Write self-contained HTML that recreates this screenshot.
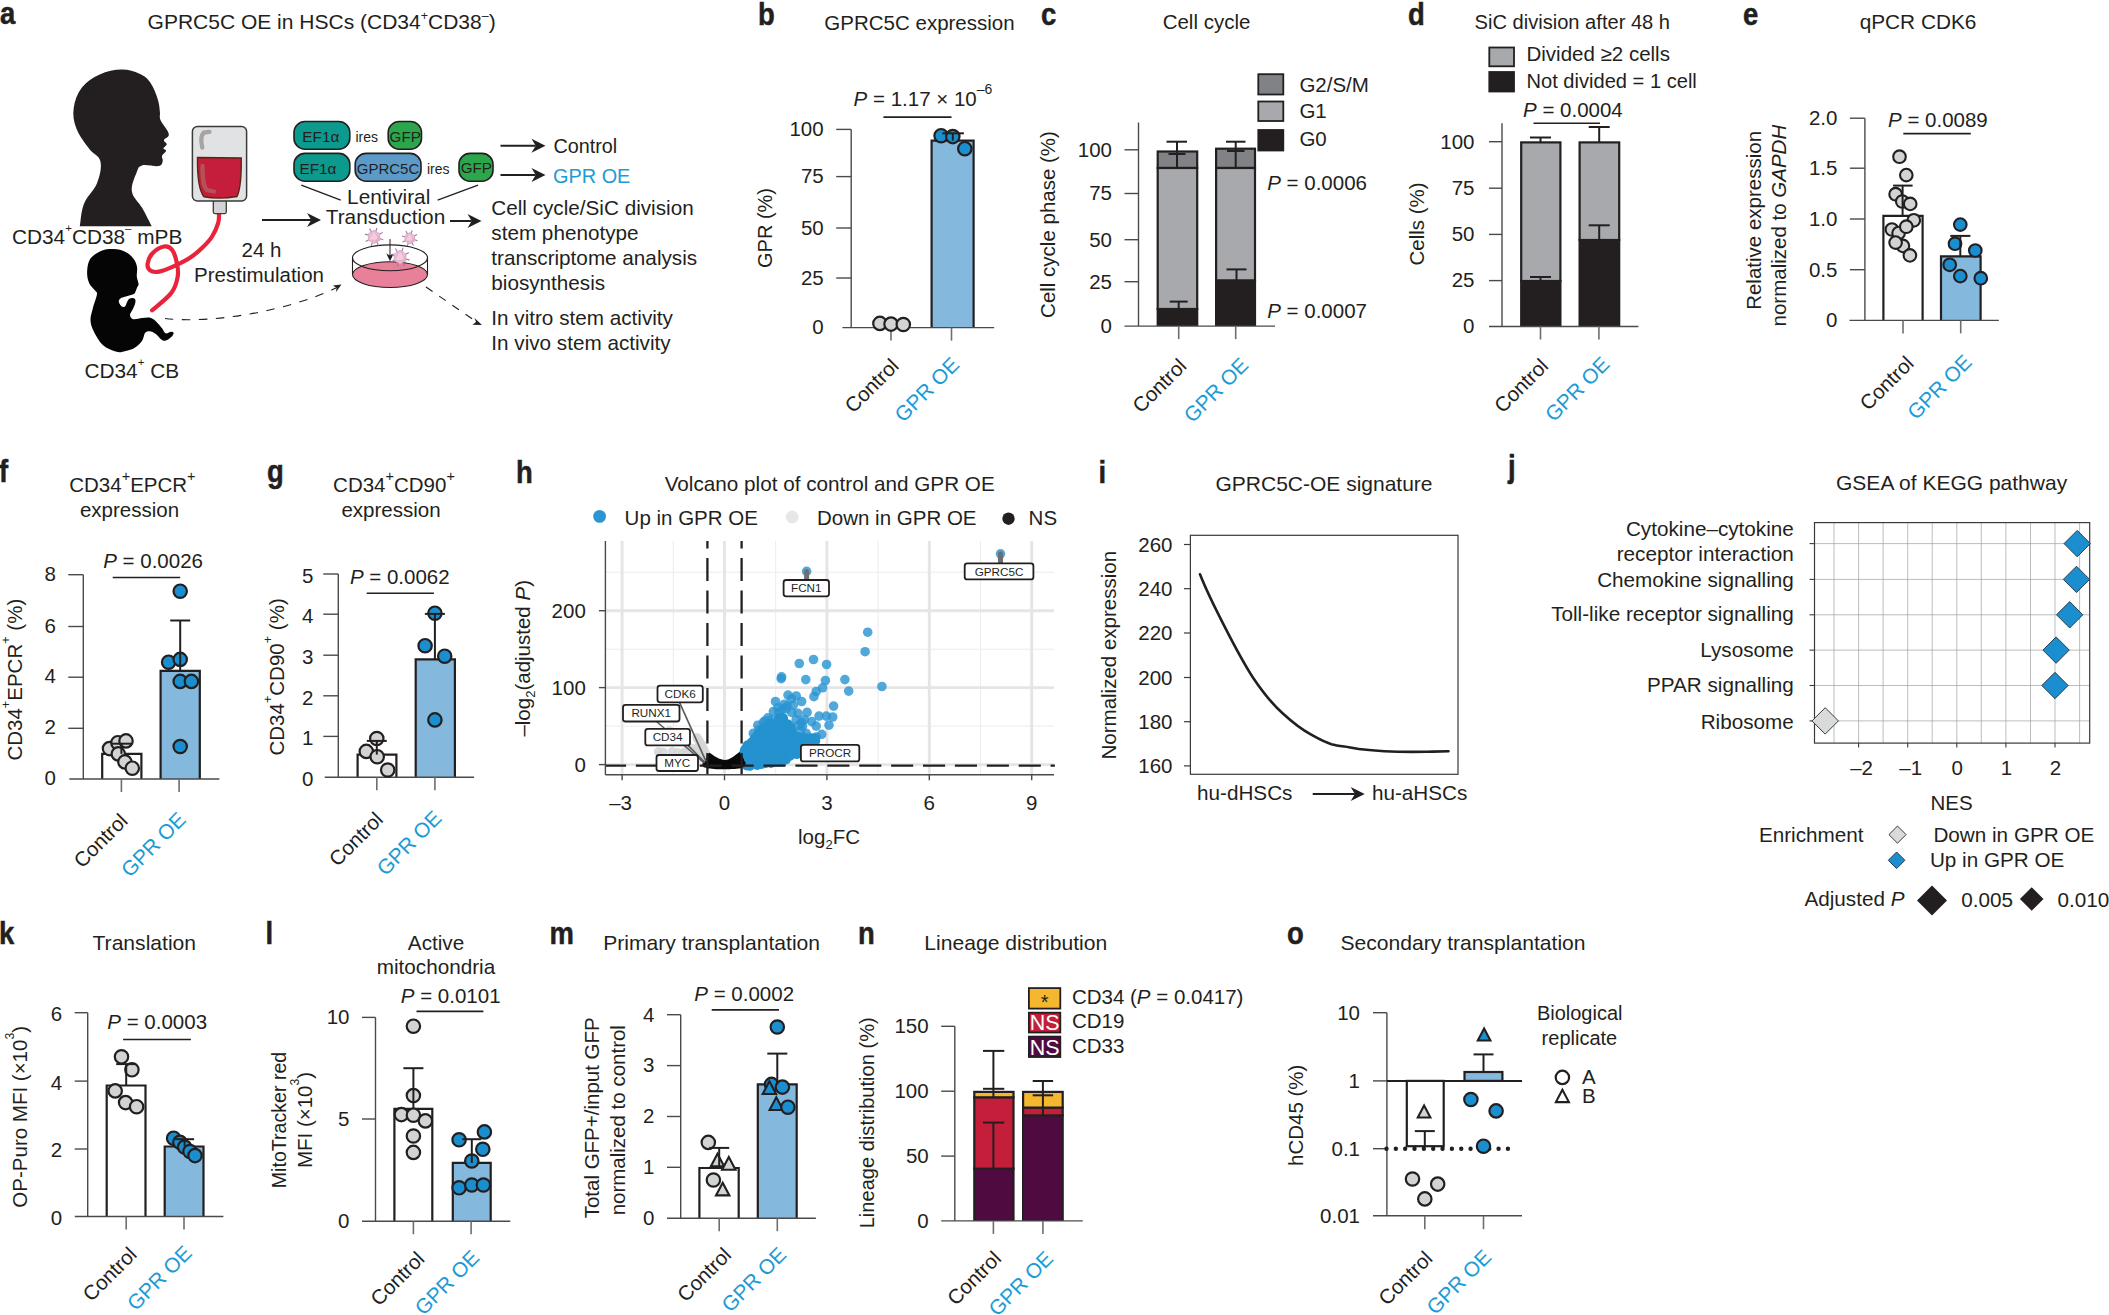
<!DOCTYPE html>
<html><head><meta charset="utf-8"><title>GPRC5C OE in HSCs</title>
<style>
html,body{margin:0;padding:0;background:#fff;}
svg{display:block;font-family:"Liberation Sans",sans-serif;}
</style></head><body>
<svg width="2109" height="1315" viewBox="0 0 2109 1315">
<rect x="0" y="0" width="2109" height="1315" fill="#ffffff"/>
<text transform="translate(0.0 24.0) scale(0.9 1)" font-size="30.5" font-weight="bold" fill="#231f20" stroke="#231f20" stroke-width="0.5">a</text>
<text x="147.6" y="28.6" font-size="21.0" fill="#231f20">GPRC5C OE in HSCs (CD34<tspan font-size="12.5" dy="-8.8">+</tspan><tspan dy="8.8" font-size="1">&#8203;</tspan>CD38<tspan font-size="12.5" dy="-8.8">–</tspan><tspan dy="8.8" font-size="1">&#8203;</tspan>)</text>
<path d="M79.8,226.3 C80.6,222.2 80.9,211.5 84.0,203.7 C87.1,195.9 94.0,190.8 97.0,183.2 C100.0,175.6 101.8,167.5 100.4,161.3 C99.0,155.1 93.7,154.9 89.4,149.0 C85.1,143.1 79.2,135.8 76.4,128.4 C73.6,121.0 72.7,115.3 73.7,107.9 C74.7,100.5 77.2,93.4 81.9,87.4 C86.6,81.4 92.6,77.6 99.7,74.4 C106.8,71.2 114.5,69.7 121.6,69.6 C128.7,69.5 134.2,71.4 139.4,73.7 C144.6,76.0 147.0,77.9 150.3,82.6 C153.6,87.3 156.2,94.4 157.9,99.7 C159.6,105.0 159.4,108.3 159.9,112.0 C160.4,115.7 159.0,116.3 160.6,120.2 C162.2,124.1 168.2,130.3 168.8,133.9 C169.4,137.5 164.4,138.1 164.0,140.0 C163.6,141.9 166.9,142.7 166.8,144.2 C166.7,145.7 163.5,147.1 163.4,148.3 C163.3,149.5 166.4,149.7 166.1,151.0 C165.8,152.3 162.6,153.9 162.0,155.8 C161.4,157.7 163.3,159.4 162.7,161.3 C162.1,163.2 162.3,165.4 158.6,166.1 C154.9,166.8 146.0,164.3 142.1,165.4 C138.2,166.5 138.5,167.6 136.7,172.3 C134.9,177.0 130.9,185.0 131.9,191.4 C132.9,197.8 138.5,201.5 142.1,207.8 C145.7,214.1 150.0,223.0 151.7,226.3 Z" fill="#231f20"/>
<text x="12.0" y="243.8" font-size="20.8" fill="#231f20">CD34<tspan font-size="11.5" dy="-11.5">+</tspan><tspan dy="11.5" font-size="1">&#8203;</tspan>CD38<tspan font-size="11.5" dy="-11.5">–</tspan><tspan dy="11.5" font-size="1">&#8203;</tspan> mPB</text>
<path d="M219.0,213.5 C218.8,215.3 219.5,218.4 218.2,222.8 C216.9,227.2 215.0,231.9 212.1,236.5 C209.2,241.1 207.2,243.0 203.0,247.0 C198.8,251.0 196.0,253.9 190.0,257.8 C184.0,261.7 177.5,264.7 171.3,267.4 C165.1,270.1 161.7,271.4 157.6,271.9 C153.5,272.4 151.7,271.7 149.8,270.1 C147.9,268.5 147.2,266.8 147.6,263.7 C148.0,260.6 149.0,257.0 152.1,253.7 C155.2,250.4 160.2,247.2 164.0,246.5 C167.8,245.8 169.8,246.9 172.2,250.0 C174.6,253.1 175.8,257.8 176.8,262.8 C177.8,267.8 178.7,270.8 177.7,276.5 C176.7,282.2 176.2,286.5 171.3,292.9 C166.4,299.3 155.7,307.0 152.1,310.3" fill="none" stroke="#e8243c" stroke-width="4.2" stroke-linecap="round"/>
<rect x="213.3" y="200.0" width="13.0" height="13.6" fill="#d1d3d4" stroke="#3a3a3a" stroke-width="1.3" rx="1.5" />
<rect x="192.4" y="126.6" width="54.2" height="74.4" fill="#e1e2e4" stroke="#3a3a3a" stroke-width="1.5" rx="5" />
<path d="M197.5,157.5 L241.2,158 C241.5,175 240,190 237,196.5 Q219,199.5 204,196.8 C198.5,190 197.3,172 197.5,157.5Z" fill="#c41e3a" stroke="#5b2416" stroke-width="1.4"/>
<path d="M202.3,147.5 C200.8,141 201.3,135 203.8,132.6 L209.5,131.8" fill="none" stroke="#a8a2a2" stroke-width="4.3" stroke-linecap="round"/>
<path d="M202.5,166 C202.5,178 203,186 207,190 L214,191.5" fill="none" stroke="#b4525a" stroke-width="4.3" stroke-linecap="round"/>
<path d="M137.1,267.4 C137.5,270.3 136.5,273.6 136.8,276.5 C137.0,279.4 138.6,282.4 138.6,284.3 C138.6,286.1 137.5,286.4 137.1,287.5 C136.6,288.6 136.4,289.5 135.9,290.7 C135.3,291.8 135.3,293.2 133.9,294.0 C132.4,294.9 129.6,295.2 127.5,295.9 C125.3,296.5 122.6,297.0 121.1,298.0 C119.6,298.9 118.9,300.1 118.8,301.3 C118.7,302.6 119.9,304.3 120.6,305.3 C121.4,306.2 122.3,307.0 123.1,307.1 C123.9,307.2 124.6,306.9 125.4,305.9 C126.1,304.9 126.7,302.4 127.5,301.2 C128.2,299.9 128.8,299.1 129.7,298.6 C130.7,298.1 132.0,297.9 132.9,298.1 C133.9,298.3 135.0,298.8 135.3,299.8 C135.7,300.8 135.5,302.2 135.0,303.9 C134.6,305.6 133.3,307.9 132.5,309.8 C131.6,311.7 129.9,313.4 130.0,315.0 C130.1,316.6 131.1,318.7 133.1,319.2 C135.2,319.8 139.3,318.4 142.1,318.1 C144.8,317.9 147.0,317.1 149.4,317.6 C151.7,318.1 153.6,319.4 155.8,321.2 C157.9,323.1 160.5,326.5 162.2,328.5 C163.8,330.6 164.1,332.7 165.6,333.3 C167.2,333.8 169.9,331.8 171.3,331.7 C172.6,331.7 173.6,332.3 173.7,333.1 C173.7,334.0 172.9,335.5 171.6,336.8 C170.2,338.0 167.6,340.1 165.8,340.6 C164.1,341.1 162.9,340.6 161.2,339.5 C159.5,338.4 157.8,335.4 155.8,334.0 C153.8,332.6 151.4,331.4 149.6,331.3 C147.7,331.1 146.2,331.6 145.0,333.1 C143.8,334.7 144.0,337.9 142.3,340.4 C140.5,342.9 137.6,345.9 134.8,347.7 C131.9,349.5 128.7,350.2 125.6,350.9 C122.5,351.6 120.4,352.8 116.5,351.8 C112.6,350.8 106.7,348.5 102.8,345.0 C98.9,341.5 95.8,335.5 93.7,331.3 C91.6,327.1 90.7,324.2 90.5,320.3 C90.3,316.4 91.7,312.8 92.8,308.5 C93.9,304.1 96.4,297.7 96.9,294.8 C97.4,291.8 96.8,293.1 95.5,291.1 C94.2,289.1 90.6,286.2 89.1,282.9 C87.7,279.6 87.0,276.0 87.1,271.9 C87.3,267.9 87.7,262.7 90.0,259.2 C92.4,255.6 97.0,252.7 101.0,251.0 C105.0,249.2 109.6,249.0 113.8,249.1 C118.0,249.3 122.2,250.2 125.6,251.9 C129.1,253.6 131.9,256.5 133.9,259.2 C135.8,261.8 136.6,264.4 137.1,267.4Z" fill="#050505" fill-rule="evenodd"/>
<text x="84.5" y="377.5" font-size="20.8" fill="#231f20">CD34<tspan font-size="11.5" dy="-11.5">+</tspan><tspan dy="11.5" font-size="1">&#8203;</tspan> CB</text>
<line x1="262.0" y1="220.0" x2="311.2" y2="220.0" stroke="#231f20" stroke-width="2"/>
<polygon points="321.0,220.0 307.0,227.0 311.2,220.0 307.0,213.0" fill="#231f20"/>
<text x="261.5" y="256.8" font-size="20.5" text-anchor="middle" fill="#231f20">24 h</text>
<text x="259.0" y="281.8" font-size="20.5" text-anchor="middle" fill="#231f20">Prestimulation</text>
<path d="M165,318.5 C215,324 290,310 336,288" fill="none" stroke="#231f20" stroke-width="1.1" stroke-dasharray="8.5,8.5"/>
<polygon points="341.5,284.5 333,285.5 336.5,288 336,292" fill="#231f20"/>
<rect x="294.0" y="121.5" width="55.8" height="27.7" fill="#0b9a8d" stroke="#231f20" stroke-width="1.6" rx="11" />
<text x="320.8" y="141.6" font-size="15.3" text-anchor="middle" fill="#231f20">EF1α</text>
<text x="355.5" y="141.5" font-size="14" fill="#231f20">ires</text>
<rect x="388.2" y="121.5" width="33.3" height="27.7" fill="#2ba64a" stroke="#231f20" stroke-width="1.6" rx="11" />
<text x="405.2" y="141.8" font-size="15.2" text-anchor="middle" fill="#231f20">GFP</text>
<rect x="294.0" y="153.4" width="55.8" height="27.8" fill="#0b9a8d" stroke="#231f20" stroke-width="1.6" rx="11" />
<text x="318.0" y="173.6" font-size="15.3" text-anchor="middle" fill="#231f20">EF1α</text>
<rect x="355.2" y="153.4" width="65.8" height="27.8" fill="#5c9bc9" stroke="#231f20" stroke-width="1.6" rx="11" />
<text x="388.0" y="174.0" font-size="15" text-anchor="middle" fill="#231f20">GPRC5C</text>
<text x="427.0" y="173.5" font-size="14" fill="#231f20">ires</text>
<rect x="459.0" y="153.4" width="34.0" height="27.8" fill="#2ba64a" stroke="#231f20" stroke-width="1.6" rx="11" />
<text x="476.3" y="173.2" font-size="15.2" text-anchor="middle" fill="#231f20">GFP</text>
<line x1="301.3" y1="185.2" x2="340.7" y2="200.1" stroke="#231f20" stroke-width="1.3" />
<line x1="478.0" y1="185.2" x2="437.6" y2="200.1" stroke="#231f20" stroke-width="1.3" />
<text x="388.7" y="203.7" font-size="20.8" text-anchor="middle" fill="#231f20">Lentiviral</text>
<text x="385.5" y="223.5" font-size="20.8" text-anchor="middle" fill="#231f20">Transduction</text>
<line x1="450.0" y1="221.0" x2="471.7" y2="221.0" stroke="#231f20" stroke-width="2"/>
<polygon points="481.5,221.0 467.5,228.0 471.7,221.0 467.5,214.0" fill="#231f20"/>
<line x1="500.5" y1="145.8" x2="535.7" y2="145.8" stroke="#231f20" stroke-width="2"/>
<polygon points="545.5,145.8 531.5,152.8 535.7,145.8 531.5,138.8" fill="#231f20"/>
<line x1="500.5" y1="175.0" x2="535.7" y2="175.0" stroke="#231f20" stroke-width="2"/>
<polygon points="545.5,175.0 531.5,182.0 535.7,175.0 531.5,168.0" fill="#231f20"/>
<text x="553.5" y="153.3" font-size="19.8" fill="#231f20">Control</text>
<text x="553.0" y="182.7" font-size="19.9" fill="#1c9ad6">GPR OE</text>
<text x="491.3" y="215.0" font-size="20.7" fill="#231f20">Cell cycle/SiC division</text>
<text x="491.3" y="239.8" font-size="20.7" fill="#231f20">stem phenotype</text>
<text x="491.3" y="264.7" font-size="20.7" fill="#231f20">transcriptome analysis</text>
<text x="491.3" y="289.6" font-size="20.7" fill="#231f20">biosynthesis</text>
<text x="491.3" y="324.7" font-size="20.7" fill="#231f20">In vitro stem activity</text>
<text x="491.3" y="349.6" font-size="20.7" fill="#231f20">In vivo stem activity</text>
<line x1="426.0" y1="287.0" x2="476.0" y2="321.5" stroke="#231f20" stroke-width="1.1" stroke-dasharray="8,8"/>
<polygon points="482,325 474.5,318 476,322 472.5,324.8" fill="#231f20"/>
<ellipse cx="390" cy="274.6" rx="37.5" ry="12.9" fill="#e8809a" stroke="#231f20" stroke-width="1.1"/>
<line x1="352.5" y1="257.8" x2="352.5" y2="274.6" stroke="#231f20" stroke-width="1.1" />
<line x1="427.5" y1="257.8" x2="427.5" y2="274.6" stroke="#231f20" stroke-width="1.1" />
<ellipse cx="390" cy="257.8" rx="37.5" ry="12.9" fill="none" stroke="#231f20" stroke-width="1.1"/>
<line x1="379.1" y1="238.5" x2="383.2" y2="239.7" stroke="#9c7aa9" stroke-width="1.1"/>
<line x1="376.6" y1="241.6" x2="378.6" y2="245.4" stroke="#9c7aa9" stroke-width="1.1"/>
<line x1="372.5" y1="241.9" x2="371.3" y2="246.0" stroke="#9c7aa9" stroke-width="1.1"/>
<line x1="369.4" y1="239.4" x2="365.6" y2="241.4" stroke="#9c7aa9" stroke-width="1.1"/>
<line x1="369.1" y1="235.3" x2="365.0" y2="234.1" stroke="#9c7aa9" stroke-width="1.1"/>
<line x1="371.6" y1="232.2" x2="369.6" y2="228.4" stroke="#9c7aa9" stroke-width="1.1"/>
<line x1="375.7" y1="231.9" x2="376.9" y2="227.8" stroke="#9c7aa9" stroke-width="1.1"/>
<line x1="378.8" y1="234.4" x2="382.6" y2="232.4" stroke="#9c7aa9" stroke-width="1.1"/>
<polygon points="374.1,243.5 368.4,240.2 368.4,233.6 374.1,230.3 379.8,233.6 379.8,240.2" fill="#f0bdd4" stroke="#c9a0bf" stroke-width="0.6"/>
<polygon points="374.1,230.3 379.8,240.2 368.4,240.2" fill="#f5cbdd" stroke="#c9a0bf" stroke-width="0.5"/>
<polygon points="379.8,240.2 379.8,233.6 374.1,243.5" fill="#e3a9c6" opacity="0.7"/>
<line x1="414.0" y1="239.6" x2="417.5" y2="240.7" stroke="#9c7aa9" stroke-width="1.1"/>
<line x1="411.8" y1="242.3" x2="413.5" y2="245.5" stroke="#9c7aa9" stroke-width="1.1"/>
<line x1="408.4" y1="242.6" x2="407.3" y2="246.1" stroke="#9c7aa9" stroke-width="1.1"/>
<line x1="405.7" y1="240.4" x2="402.5" y2="242.1" stroke="#9c7aa9" stroke-width="1.1"/>
<line x1="405.4" y1="237.0" x2="401.9" y2="235.9" stroke="#9c7aa9" stroke-width="1.1"/>
<line x1="407.6" y1="234.3" x2="405.9" y2="231.1" stroke="#9c7aa9" stroke-width="1.1"/>
<line x1="411.0" y1="234.0" x2="412.1" y2="230.5" stroke="#9c7aa9" stroke-width="1.1"/>
<line x1="413.7" y1="236.2" x2="416.9" y2="234.5" stroke="#9c7aa9" stroke-width="1.1"/>
<polygon points="409.7,243.9 404.9,241.1 404.9,235.5 409.7,232.7 414.5,235.5 414.5,241.1" fill="#f0bdd4" stroke="#c9a0bf" stroke-width="0.6"/>
<polygon points="409.7,232.7 414.5,241.1 404.9,241.1" fill="#f5cbdd" stroke="#c9a0bf" stroke-width="0.5"/>
<polygon points="414.5,241.1 414.5,235.5 409.7,243.9" fill="#e3a9c6" opacity="0.7"/>
<line x1="390.0" y1="239.1" x2="390.0" y2="256.0" stroke="#231f20" stroke-width="1.0" />
<polygon points="390,261.2 386.3,253.5 390,255.5 393.7,253.5" fill="#231f20"/>
<line x1="405.3" y1="258.8" x2="409.5" y2="260.1" stroke="#9c7aa9" stroke-width="1.1"/>
<line x1="402.6" y1="262.0" x2="404.7" y2="265.9" stroke="#9c7aa9" stroke-width="1.1"/>
<line x1="398.5" y1="262.4" x2="397.2" y2="266.6" stroke="#9c7aa9" stroke-width="1.1"/>
<line x1="395.3" y1="259.7" x2="391.4" y2="261.8" stroke="#9c7aa9" stroke-width="1.1"/>
<line x1="394.9" y1="255.6" x2="390.7" y2="254.3" stroke="#9c7aa9" stroke-width="1.1"/>
<line x1="397.6" y1="252.4" x2="395.5" y2="248.5" stroke="#9c7aa9" stroke-width="1.1"/>
<line x1="401.7" y1="252.0" x2="403.0" y2="247.8" stroke="#9c7aa9" stroke-width="1.1"/>
<line x1="404.9" y1="254.7" x2="408.8" y2="252.6" stroke="#9c7aa9" stroke-width="1.1"/>
<polygon points="400.1,264.0 394.2,260.6 394.2,253.8 400.1,250.4 406.0,253.8 406.0,260.6" fill="#f0bdd4" stroke="#c9a0bf" stroke-width="0.6"/>
<polygon points="400.1,250.4 406.0,260.6 394.2,260.6" fill="#f5cbdd" stroke="#c9a0bf" stroke-width="0.5"/>
<polygon points="406.0,260.6 406.0,253.8 400.1,264.0" fill="#e3a9c6" opacity="0.7"/>
<text transform="translate(758.0 24.5) scale(0.9 1)" font-size="30.5" font-weight="bold" fill="#231f20" stroke="#231f20" stroke-width="0.5">b</text>
<text x="919.5" y="29.5" font-size="20.5" text-anchor="middle" fill="#231f20">GPRC5C expression</text>
<path d="M931.6,327.6 L931.6,140.6 L973.6,140.6 L973.6,327.6" fill="#85b8dd" stroke="#231f20" stroke-width="2.2" stroke-linejoin="miter"/>
<line x1="851.2" y1="129.4" x2="851.2" y2="327.6" stroke="#4a4a4a" stroke-width="1.4" />
<line x1="842.4" y1="327.6" x2="994.2" y2="327.6" stroke="#4a4a4a" stroke-width="1.4" />
<line x1="836.2" y1="129.4" x2="851.2" y2="129.4" stroke="#4a4a4a" stroke-width="1.4" />
<text x="823.7" y="136.2" font-size="20.5" text-anchor="end" fill="#231f20">100</text>
<line x1="836.2" y1="176.6" x2="851.2" y2="176.6" stroke="#4a4a4a" stroke-width="1.4" />
<text x="823.7" y="183.4" font-size="20.5" text-anchor="end" fill="#231f20">75</text>
<line x1="836.2" y1="228.0" x2="851.2" y2="228.0" stroke="#4a4a4a" stroke-width="1.4" />
<text x="823.7" y="234.8" font-size="20.5" text-anchor="end" fill="#231f20">50</text>
<line x1="836.2" y1="278.0" x2="851.2" y2="278.0" stroke="#4a4a4a" stroke-width="1.4" />
<text x="823.7" y="284.8" font-size="20.5" text-anchor="end" fill="#231f20">25</text>
<text x="823.7" y="334.4" font-size="20.5" text-anchor="end" fill="#231f20">0</text>
<line x1="891.0" y1="327.6" x2="891.0" y2="340.6" stroke="#6d6e71" stroke-width="1.6" />
<line x1="951.5" y1="327.6" x2="951.5" y2="340.6" stroke="#6d6e71" stroke-width="1.6" />
<circle cx="879.9" cy="323.4" r="6.7" fill="#d1d3d4" stroke="#231f20" stroke-width="2.2" />
<circle cx="891.0" cy="324.1" r="6.7" fill="#d1d3d4" stroke="#231f20" stroke-width="2.2" />
<circle cx="903.3" cy="324.5" r="6.7" fill="#d1d3d4" stroke="#231f20" stroke-width="2.2" />
<circle cx="941.1" cy="135.7" r="6.7" fill="#1b8ecf" stroke="#231f20" stroke-width="2.2" />
<circle cx="952.8" cy="136.6" r="6.7" fill="#1b8ecf" stroke="#231f20" stroke-width="2.2" />
<circle cx="964.8" cy="148.7" r="6.7" fill="#1b8ecf" stroke="#231f20" stroke-width="2.2" />
<line x1="952.8" y1="133.3" x2="952.8" y2="140.6" stroke="#231f20" stroke-width="2" />
<line x1="942.3" y1="133.3" x2="963.9" y2="133.3" stroke="#231f20" stroke-width="2" />
<text x="853.6" y="106.0" font-size="20.5" fill="#231f20"><tspan font-style="italic">P</tspan> = 1.17 × 10<tspan font-size="14" dy="-12">–6</tspan><tspan dy="12" font-size="1">&#8203;</tspan></text>
<line x1="883.4" y1="117.1" x2="951.5" y2="117.1" stroke="#231f20" stroke-width="1.6" />
<text x="771.8" y="228.0" font-size="20" text-anchor="middle" fill="#231f20" transform="rotate(-90 771.8 228.0)">GPR (%)</text>
<text x="900.0" y="367.3" font-size="20.5" text-anchor="end" fill="#231f20" transform="rotate(-45 900.0 367.3)">Control</text>
<text x="960.5" y="366.0" font-size="20.8" text-anchor="end" fill="#1c9ad6" transform="rotate(-45 960.5 366.0)">GPR OE</text>
<text transform="translate(1041.0 24.5) scale(0.9 1)" font-size="30.5" font-weight="bold" fill="#231f20" stroke="#231f20" stroke-width="0.5">c</text>
<text x="1206.5" y="28.7" font-size="20.5" text-anchor="middle" fill="#231f20">Cell cycle</text>
<rect x="1157.7" y="151.5" width="39.5" height="16.5" fill="#808285" stroke="#231f20" stroke-width="2.2" />
<rect x="1157.7" y="168.0" width="39.5" height="141.0" fill="#a7a9ac" stroke="#231f20" stroke-width="2.2" />
<path d="M1157.7,326.1 L1157.7,309.0 L1197.2,309.0 L1197.2,326.1" fill="#231f20" stroke="#231f20" stroke-width="2.2" stroke-linejoin="miter"/>
<rect x="1216.1" y="148.7" width="38.9" height="19.3" fill="#808285" stroke="#231f20" stroke-width="2.2" />
<rect x="1216.1" y="168.0" width="38.9" height="112.6" fill="#a7a9ac" stroke="#231f20" stroke-width="2.2" />
<path d="M1216.1,326.1 L1216.1,280.6 L1255.0,280.6 L1255.0,326.1" fill="#231f20" stroke="#231f20" stroke-width="2.2" stroke-linejoin="miter"/>
<line x1="1177.0" y1="141.7" x2="1177.0" y2="167.0" stroke="#231f20" stroke-width="2" />
<line x1="1166.5" y1="141.7" x2="1187.0" y2="141.7" stroke="#231f20" stroke-width="2" />
<line x1="1168.5" y1="154.0" x2="1185.5" y2="154.0" stroke="#231f20" stroke-width="2" />
<line x1="1178.7" y1="309.0" x2="1178.7" y2="301.6" stroke="#231f20" stroke-width="2" />
<line x1="1169.7" y1="301.6" x2="1187.7" y2="301.6" stroke="#231f20" stroke-width="2" />
<line x1="1235.7" y1="141.7" x2="1235.7" y2="167.0" stroke="#231f20" stroke-width="2" />
<line x1="1226.0" y1="141.7" x2="1245.5" y2="141.7" stroke="#231f20" stroke-width="2" />
<line x1="1227.0" y1="151.0" x2="1244.5" y2="151.0" stroke="#231f20" stroke-width="2" />
<line x1="1236.5" y1="280.6" x2="1236.5" y2="269.4" stroke="#231f20" stroke-width="2" />
<line x1="1226.5" y1="269.4" x2="1246.5" y2="269.4" stroke="#231f20" stroke-width="2" />
<line x1="1138.5" y1="122.5" x2="1138.5" y2="326.1" stroke="#4a4a4a" stroke-width="1.4" />
<line x1="1124.5" y1="326.1" x2="1275.0" y2="326.1" stroke="#4a4a4a" stroke-width="1.4" />
<line x1="1124.5" y1="149.8" x2="1138.5" y2="149.8" stroke="#4a4a4a" stroke-width="1.4" />
<text x="1112.0" y="156.6" font-size="20.5" text-anchor="end" fill="#231f20">100</text>
<line x1="1124.5" y1="193.5" x2="1138.5" y2="193.5" stroke="#4a4a4a" stroke-width="1.4" />
<text x="1112.0" y="200.3" font-size="20.5" text-anchor="end" fill="#231f20">75</text>
<line x1="1124.5" y1="239.7" x2="1138.5" y2="239.7" stroke="#4a4a4a" stroke-width="1.4" />
<text x="1112.0" y="246.5" font-size="20.5" text-anchor="end" fill="#231f20">50</text>
<line x1="1124.5" y1="281.7" x2="1138.5" y2="281.7" stroke="#4a4a4a" stroke-width="1.4" />
<text x="1112.0" y="288.5" font-size="20.5" text-anchor="end" fill="#231f20">25</text>
<text x="1112.0" y="332.9" font-size="20.5" text-anchor="end" fill="#231f20">0</text>
<line x1="1178.7" y1="326.1" x2="1178.7" y2="339.1" stroke="#6d6e71" stroke-width="1.6" />
<line x1="1235.7" y1="326.1" x2="1235.7" y2="339.1" stroke="#6d6e71" stroke-width="1.6" />
<rect x="1258.3" y="74.2" width="25.0" height="20.3" fill="#808285" stroke="#231f20" stroke-width="1.8" />
<text x="1299.4" y="91.7" font-size="20.5" fill="#231f20">G2/S/M</text>
<rect x="1258.3" y="101.5" width="25.0" height="19.5" fill="#a7a9ac" stroke="#231f20" stroke-width="1.8" />
<text x="1299.4" y="118.3" font-size="20.5" fill="#231f20">G1</text>
<rect x="1258.3" y="130.0" width="25.0" height="20.5" fill="#231f20" stroke="#231f20" stroke-width="1.8" />
<text x="1299.4" y="146.3" font-size="20.5" fill="#231f20">G0</text>
<text x="1267.2" y="190.0" font-size="20.5" fill="#231f20"><tspan font-style="italic">P</tspan> = 0.0006</text>
<text x="1267.2" y="318.4" font-size="20.5" fill="#231f20"><tspan font-style="italic">P</tspan> = 0.0007</text>
<text x="1054.8" y="224.5" font-size="20.5" text-anchor="middle" fill="#231f20" transform="rotate(-90 1054.8 224.5)">Cell cycle phase (%)</text>
<text x="1187.7" y="367.3" font-size="20.5" text-anchor="end" fill="#231f20" transform="rotate(-45 1187.7 367.3)">Control</text>
<text x="1249.7" y="366.5" font-size="20.8" text-anchor="end" fill="#1c9ad6" transform="rotate(-45 1249.7 366.5)">GPR OE</text>
<text transform="translate(1408.0 24.5) scale(0.9 1)" font-size="30.5" font-weight="bold" fill="#231f20" stroke="#231f20" stroke-width="0.5">d</text>
<text x="1572.3" y="28.7" font-size="20.1" text-anchor="middle" fill="#231f20">SiC division after 48 h</text>
<rect x="1489.3" y="47.5" width="24.7" height="18.8" fill="#a7a9ac" stroke="#231f20" stroke-width="1.8" />
<rect x="1489.3" y="72.0" width="24.7" height="19.5" fill="#231f20" stroke="#231f20" stroke-width="1.8" />
<text x="1526.5" y="61.2" font-size="20.5" fill="#231f20">Divided ≥2 cells</text>
<text x="1526.5" y="87.5" font-size="20.1" fill="#231f20">Not divided = 1 cell</text>
<text x="1523.0" y="116.5" font-size="20.5" fill="#231f20"><tspan font-style="italic">P</tspan> = 0.0004</text>
<line x1="1533.5" y1="123.2" x2="1600.0" y2="123.2" stroke="#231f20" stroke-width="1.6" />
<rect x="1521.2" y="142.4" width="39.2" height="138.6" fill="#a7a9ac" stroke="#231f20" stroke-width="2.2" />
<path d="M1521.2,326.5 L1521.2,281.0 L1560.4,281.0 L1560.4,326.5" fill="#231f20" stroke="#231f20" stroke-width="2.2" stroke-linejoin="miter"/>
<rect x="1579.6" y="142.4" width="39.6" height="97.6" fill="#a7a9ac" stroke="#231f20" stroke-width="2.2" />
<path d="M1579.6,326.5 L1579.6,240.0 L1619.2,240.0 L1619.2,326.5" fill="#231f20" stroke="#231f20" stroke-width="2.2" stroke-linejoin="miter"/>
<line x1="1540.5" y1="142.4" x2="1540.5" y2="137.5" stroke="#231f20" stroke-width="2" />
<line x1="1530.0" y1="137.5" x2="1551.0" y2="137.5" stroke="#231f20" stroke-width="2" />
<line x1="1540.5" y1="281.0" x2="1540.5" y2="277.0" stroke="#231f20" stroke-width="2" />
<line x1="1530.0" y1="277.0" x2="1551.0" y2="277.0" stroke="#231f20" stroke-width="2" />
<line x1="1599.2" y1="142.4" x2="1599.2" y2="127.0" stroke="#231f20" stroke-width="2" />
<line x1="1588.7" y1="127.0" x2="1609.7" y2="127.0" stroke="#231f20" stroke-width="2" />
<line x1="1599.2" y1="240.0" x2="1599.2" y2="225.3" stroke="#231f20" stroke-width="2" />
<line x1="1588.7" y1="225.3" x2="1609.7" y2="225.3" stroke="#231f20" stroke-width="2" />
<line x1="1502.0" y1="123.2" x2="1502.0" y2="326.5" stroke="#4a4a4a" stroke-width="1.4" />
<line x1="1489.0" y1="326.5" x2="1638.4" y2="326.5" stroke="#4a4a4a" stroke-width="1.4" />
<line x1="1489.0" y1="141.7" x2="1502.0" y2="141.7" stroke="#4a4a4a" stroke-width="1.4" />
<text x="1474.5" y="148.5" font-size="20.5" text-anchor="end" fill="#231f20">100</text>
<line x1="1489.0" y1="188.2" x2="1502.0" y2="188.2" stroke="#4a4a4a" stroke-width="1.4" />
<text x="1474.5" y="195.0" font-size="20.5" text-anchor="end" fill="#231f20">75</text>
<line x1="1489.0" y1="234.4" x2="1502.0" y2="234.4" stroke="#4a4a4a" stroke-width="1.4" />
<text x="1474.5" y="241.2" font-size="20.5" text-anchor="end" fill="#231f20">50</text>
<line x1="1489.0" y1="280.6" x2="1502.0" y2="280.6" stroke="#4a4a4a" stroke-width="1.4" />
<text x="1474.5" y="287.4" font-size="20.5" text-anchor="end" fill="#231f20">25</text>
<text x="1474.5" y="333.3" font-size="20.5" text-anchor="end" fill="#231f20">0</text>
<line x1="1540.5" y1="326.5" x2="1540.5" y2="339.5" stroke="#6d6e71" stroke-width="1.6" />
<line x1="1598.9" y1="326.5" x2="1598.9" y2="339.5" stroke="#6d6e71" stroke-width="1.6" />
<text x="1423.5" y="224.0" font-size="20.5" text-anchor="middle" fill="#231f20" transform="rotate(-90 1423.5 224.0)">Cells (%)</text>
<text x="1549.5" y="367.3" font-size="20.5" text-anchor="end" fill="#231f20" transform="rotate(-45 1549.5 367.3)">Control</text>
<text x="1610.9" y="365.5" font-size="20.8" text-anchor="end" fill="#1c9ad6" transform="rotate(-45 1610.9 365.5)">GPR OE</text>
<text transform="translate(1743.0 24.5) scale(0.9 1)" font-size="30.5" font-weight="bold" fill="#231f20" stroke="#231f20" stroke-width="0.5">e</text>
<text x="1918.0" y="28.7" font-size="20.8" text-anchor="middle" fill="#231f20">qPCR CDK6</text>
<path d="M1883.4,320.4 L1883.4,215.8 L1922.6,215.8 L1922.6,320.4" fill="#ffffff" stroke="#231f20" stroke-width="2.2" stroke-linejoin="miter"/>
<path d="M1941.0,320.4 L1941.0,256.4 L1980.6,256.4 L1980.6,320.4" fill="#85b8dd" stroke="#231f20" stroke-width="2.2" stroke-linejoin="miter"/>
<line x1="1864.9" y1="118.2" x2="1864.9" y2="320.4" stroke="#4a4a4a" stroke-width="1.4" />
<line x1="1849.5" y1="320.4" x2="1998.8" y2="320.4" stroke="#4a4a4a" stroke-width="1.4" />
<line x1="1849.9" y1="118.2" x2="1864.9" y2="118.2" stroke="#4a4a4a" stroke-width="1.4" />
<text x="1837.4" y="125.0" font-size="20.5" text-anchor="end" fill="#231f20">2.0</text>
<line x1="1849.9" y1="168.2" x2="1864.9" y2="168.2" stroke="#4a4a4a" stroke-width="1.4" />
<text x="1837.4" y="175.0" font-size="20.5" text-anchor="end" fill="#231f20">1.5</text>
<line x1="1849.9" y1="219.0" x2="1864.9" y2="219.0" stroke="#4a4a4a" stroke-width="1.4" />
<text x="1837.4" y="225.8" font-size="20.5" text-anchor="end" fill="#231f20">1.0</text>
<line x1="1849.9" y1="269.7" x2="1864.9" y2="269.7" stroke="#4a4a4a" stroke-width="1.4" />
<text x="1837.4" y="276.5" font-size="20.5" text-anchor="end" fill="#231f20">0.5</text>
<text x="1837.4" y="327.2" font-size="20.5" text-anchor="end" fill="#231f20">0</text>
<line x1="1903.0" y1="320.4" x2="1903.0" y2="333.4" stroke="#6d6e71" stroke-width="1.6" />
<line x1="1960.7" y1="320.4" x2="1960.7" y2="333.4" stroke="#6d6e71" stroke-width="1.6" />
<circle cx="1899.5" cy="156.7" r="6.3" fill="#d1d3d4" stroke="#231f20" stroke-width="2.1" />
<circle cx="1906.3" cy="175.1" r="6.3" fill="#d1d3d4" stroke="#231f20" stroke-width="2.1" />
<circle cx="1895.6" cy="194.2" r="6.3" fill="#d1d3d4" stroke="#231f20" stroke-width="2.1" />
<circle cx="1902.3" cy="201.5" r="6.3" fill="#d1d3d4" stroke="#231f20" stroke-width="2.1" />
<circle cx="1910.2" cy="203.9" r="6.3" fill="#d1d3d4" stroke="#231f20" stroke-width="2.1" />
<circle cx="1913.8" cy="220.3" r="6.3" fill="#d1d3d4" stroke="#231f20" stroke-width="2.1" />
<circle cx="1891.9" cy="229.5" r="6.3" fill="#d1d3d4" stroke="#231f20" stroke-width="2.1" />
<circle cx="1898.6" cy="233.1" r="6.3" fill="#d1d3d4" stroke="#231f20" stroke-width="2.1" />
<circle cx="1906.3" cy="226.7" r="6.3" fill="#d1d3d4" stroke="#231f20" stroke-width="2.1" />
<circle cx="1902.9" cy="245.9" r="6.3" fill="#d1d3d4" stroke="#231f20" stroke-width="2.1" />
<circle cx="1895.6" cy="242.6" r="6.3" fill="#d1d3d4" stroke="#231f20" stroke-width="2.1" />
<circle cx="1909.9" cy="255.4" r="6.3" fill="#d1d3d4" stroke="#231f20" stroke-width="2.1" />
<circle cx="1960.3" cy="224.6" r="6.3" fill="#1b8ecf" stroke="#231f20" stroke-width="2.1" />
<circle cx="1955.0" cy="243.7" r="6.3" fill="#1b8ecf" stroke="#231f20" stroke-width="2.1" />
<circle cx="1975.3" cy="250.5" r="6.3" fill="#1b8ecf" stroke="#231f20" stroke-width="2.1" />
<circle cx="1949.7" cy="264.8" r="6.3" fill="#1b8ecf" stroke="#231f20" stroke-width="2.1" />
<circle cx="1960.3" cy="276.1" r="6.3" fill="#1b8ecf" stroke="#231f20" stroke-width="2.1" />
<circle cx="1980.8" cy="278.2" r="6.3" fill="#1b8ecf" stroke="#231f20" stroke-width="2.1" />
<line x1="1902.6" y1="185.6" x2="1902.6" y2="216.0" stroke="#231f20" stroke-width="2" />
<line x1="1893.1" y1="185.6" x2="1912.6" y2="185.6" stroke="#231f20" stroke-width="2" />
<line x1="1960.3" y1="235.9" x2="1960.3" y2="256.5" stroke="#231f20" stroke-width="2" />
<line x1="1950.3" y1="235.9" x2="1970.4" y2="235.9" stroke="#231f20" stroke-width="2" />
<text x="1888.0" y="126.6" font-size="20.5" fill="#231f20"><tspan font-style="italic">P</tspan> = 0.0089</text>
<line x1="1903.3" y1="133.6" x2="1970.8" y2="133.6" stroke="#231f20" stroke-width="1.6" />
<text x="1760.8" y="220.4" font-size="20.5" text-anchor="middle" fill="#231f20" transform="rotate(-90 1760.8 220.4)">Relative expression</text>
<text x="1786.5" y="225.6" font-size="20.5" text-anchor="middle" fill="#231f20" transform="rotate(-90 1786.5 225.6)">normalized to <tspan font-style="italic">GAPDH</tspan></text>
<text x="1915.0" y="364.8" font-size="20.5" text-anchor="end" fill="#231f20" transform="rotate(-45 1915.0 364.8)">Control</text>
<text x="1973.2" y="363.5" font-size="20.8" text-anchor="end" fill="#1c9ad6" transform="rotate(-45 1973.2 363.5)">GPR OE</text>
<circle cx="1512.5" cy="456.0" r="1.6" fill="#231f20" stroke="#231f20" stroke-width="0" />
<text transform="translate(-1.0 481.6) scale(0.9 1)" font-size="30.5" font-weight="bold" fill="#231f20" stroke="#231f20" stroke-width="0.5">f</text>
<text x="132.4" y="491.6" font-size="20.5" text-anchor="middle" fill="#231f20">CD34<tspan font-size="14.5" dy="-11">+</tspan><tspan dy="11" font-size="1">&#8203;</tspan>EPCR<tspan font-size="14.5" dy="-11">+</tspan><tspan dy="11" font-size="1">&#8203;</tspan></text>
<text x="129.5" y="517.0" font-size="20.5" text-anchor="middle" fill="#231f20">expression</text>
<path d="M102.2,779.0 L102.2,753.9 L141.4,753.9 L141.4,779.0" fill="#ffffff" stroke="#231f20" stroke-width="2.2" stroke-linejoin="miter"/>
<path d="M160.6,779.0 L160.6,670.9 L199.8,670.9 L199.8,779.0" fill="#85b8dd" stroke="#231f20" stroke-width="2.2" stroke-linejoin="miter"/>
<line x1="83.3" y1="574.7" x2="83.3" y2="779.0" stroke="#4a4a4a" stroke-width="1.4" />
<line x1="69.3" y1="779.0" x2="219.4" y2="779.0" stroke="#4a4a4a" stroke-width="1.4" />
<line x1="68.3" y1="574.7" x2="83.3" y2="574.7" stroke="#4a4a4a" stroke-width="1.4" />
<text x="55.8" y="580.7" font-size="20.5" text-anchor="end" fill="#231f20">8</text>
<line x1="68.3" y1="626.5" x2="83.3" y2="626.5" stroke="#4a4a4a" stroke-width="1.4" />
<text x="55.8" y="632.5" font-size="20.5" text-anchor="end" fill="#231f20">6</text>
<line x1="68.3" y1="677.2" x2="83.3" y2="677.2" stroke="#4a4a4a" stroke-width="1.4" />
<text x="55.8" y="683.2" font-size="20.5" text-anchor="end" fill="#231f20">4</text>
<line x1="68.3" y1="728.3" x2="83.3" y2="728.3" stroke="#4a4a4a" stroke-width="1.4" />
<text x="55.8" y="734.3" font-size="20.5" text-anchor="end" fill="#231f20">2</text>
<text x="55.8" y="785.0" font-size="20.5" text-anchor="end" fill="#231f20">0</text>
<line x1="121.4" y1="779.0" x2="121.4" y2="792.0" stroke="#6d6e71" stroke-width="1.6" />
<line x1="179.1" y1="779.0" x2="179.1" y2="792.0" stroke="#6d6e71" stroke-width="1.6" />
<circle cx="109.5" cy="748.6" r="6.7" fill="#d1d3d4" stroke="#231f20" stroke-width="2.2" />
<circle cx="117.9" cy="742.7" r="6.7" fill="#d1d3d4" stroke="#231f20" stroke-width="2.2" />
<circle cx="126.0" cy="740.9" r="6.7" fill="#d1d3d4" stroke="#231f20" stroke-width="2.2" />
<circle cx="118.3" cy="753.9" r="6.7" fill="#d1d3d4" stroke="#231f20" stroke-width="2.2" />
<circle cx="124.9" cy="761.9" r="6.7" fill="#d1d3d4" stroke="#231f20" stroke-width="2.2" />
<circle cx="132.3" cy="768.2" r="6.7" fill="#d1d3d4" stroke="#231f20" stroke-width="2.2" />
<circle cx="180.2" cy="591.2" r="6.7" fill="#1b8ecf" stroke="#231f20" stroke-width="2.2" />
<circle cx="168.6" cy="662.2" r="6.7" fill="#1b8ecf" stroke="#231f20" stroke-width="2.2" />
<circle cx="180.2" cy="659.4" r="6.7" fill="#1b8ecf" stroke="#231f20" stroke-width="2.2" />
<circle cx="180.2" cy="681.4" r="6.7" fill="#1b8ecf" stroke="#231f20" stroke-width="2.2" />
<circle cx="191.4" cy="681.4" r="6.7" fill="#1b8ecf" stroke="#231f20" stroke-width="2.2" />
<circle cx="180.2" cy="746.5" r="6.7" fill="#1b8ecf" stroke="#231f20" stroke-width="2.2" />
<line x1="121.4" y1="753.9" x2="121.4" y2="743.7" stroke="#231f20" stroke-width="2" />
<line x1="111.4" y1="743.7" x2="131.4" y2="743.7" stroke="#231f20" stroke-width="2" />
<line x1="180.2" y1="670.9" x2="180.2" y2="620.5" stroke="#231f20" stroke-width="2" />
<line x1="170.2" y1="620.5" x2="190.2" y2="620.5" stroke="#231f20" stroke-width="2" />
<text x="103.2" y="568.4" font-size="20.5" fill="#231f20"><tspan font-style="italic">P</tspan> = 0.0026</text>
<line x1="112.7" y1="577.5" x2="180.2" y2="577.5" stroke="#231f20" stroke-width="1.6" />
<text x="22.0" y="679.7" font-size="20.5" text-anchor="middle" fill="#231f20" transform="rotate(-90 22.0 679.7)">CD34<tspan font-size="12.7" dy="-12.2">+</tspan><tspan dy="12.2" font-size="1">&#8203;</tspan>EPCR<tspan font-size="12.7" dy="-12.2">+</tspan><tspan dy="12.2" font-size="1">&#8203;</tspan> (%)</text>
<text x="128.9" y="822.3" font-size="20.5" text-anchor="end" fill="#231f20" transform="rotate(-45 128.9 822.3)">Control</text>
<text x="187.0" y="821.0" font-size="20.8" text-anchor="end" fill="#1c9ad6" transform="rotate(-45 187.0 821.0)">GPR OE</text>
<text transform="translate(267.0 481.6) scale(0.9 1)" font-size="30.5" font-weight="bold" fill="#231f20" stroke="#231f20" stroke-width="0.5">g</text>
<text x="394.0" y="491.6" font-size="20.5" text-anchor="middle" fill="#231f20">CD34<tspan font-size="14.5" dy="-11">+</tspan><tspan dy="11" font-size="1">&#8203;</tspan>CD90<tspan font-size="14.5" dy="-11">+</tspan><tspan dy="11" font-size="1">&#8203;</tspan></text>
<text x="391.0" y="517.0" font-size="20.5" text-anchor="middle" fill="#231f20">expression</text>
<path d="M357.6,777.3 L357.6,754.6 L396.4,754.6 L396.4,777.3" fill="#ffffff" stroke="#231f20" stroke-width="2.2" stroke-linejoin="miter"/>
<path d="M415.7,777.3 L415.7,659.4 L454.9,659.4 L454.9,777.3" fill="#85b8dd" stroke="#231f20" stroke-width="2.2" stroke-linejoin="miter"/>
<line x1="338.3" y1="574.0" x2="338.3" y2="777.3" stroke="#4a4a4a" stroke-width="1.4" />
<line x1="324.7" y1="777.3" x2="474.1" y2="777.3" stroke="#4a4a4a" stroke-width="1.4" />
<line x1="323.3" y1="574.0" x2="338.3" y2="574.0" stroke="#4a4a4a" stroke-width="1.4" />
<text x="313.5" y="583.0" font-size="20.5" text-anchor="end" fill="#231f20">5</text>
<line x1="323.3" y1="614.2" x2="338.3" y2="614.2" stroke="#4a4a4a" stroke-width="1.4" />
<text x="313.5" y="623.2" font-size="20.5" text-anchor="end" fill="#231f20">4</text>
<line x1="323.3" y1="655.2" x2="338.3" y2="655.2" stroke="#4a4a4a" stroke-width="1.4" />
<text x="313.5" y="664.2" font-size="20.5" text-anchor="end" fill="#231f20">3</text>
<line x1="323.3" y1="695.8" x2="338.3" y2="695.8" stroke="#4a4a4a" stroke-width="1.4" />
<text x="313.5" y="704.8" font-size="20.5" text-anchor="end" fill="#231f20">2</text>
<line x1="323.3" y1="736.4" x2="338.3" y2="736.4" stroke="#4a4a4a" stroke-width="1.4" />
<text x="313.5" y="745.4" font-size="20.5" text-anchor="end" fill="#231f20">1</text>
<text x="313.5" y="786.3" font-size="20.5" text-anchor="end" fill="#231f20">0</text>
<line x1="376.8" y1="777.3" x2="376.8" y2="790.3" stroke="#6d6e71" stroke-width="1.6" />
<line x1="434.9" y1="777.3" x2="434.9" y2="790.3" stroke="#6d6e71" stroke-width="1.6" />
<circle cx="376.8" cy="738.5" r="6.7" fill="#d1d3d4" stroke="#231f20" stroke-width="2.2" />
<circle cx="366.3" cy="751.4" r="6.7" fill="#d1d3d4" stroke="#231f20" stroke-width="2.2" />
<circle cx="377.2" cy="756.7" r="6.7" fill="#d1d3d4" stroke="#231f20" stroke-width="2.2" />
<circle cx="387.7" cy="770.0" r="6.7" fill="#d1d3d4" stroke="#231f20" stroke-width="2.2" />
<circle cx="434.9" cy="613.2" r="6.7" fill="#1b8ecf" stroke="#231f20" stroke-width="2.2" />
<circle cx="425.1" cy="645.7" r="6.7" fill="#1b8ecf" stroke="#231f20" stroke-width="2.2" />
<circle cx="444.7" cy="656.2" r="6.7" fill="#1b8ecf" stroke="#231f20" stroke-width="2.2" />
<circle cx="434.9" cy="719.9" r="6.7" fill="#1b8ecf" stroke="#231f20" stroke-width="2.2" />
<line x1="376.8" y1="754.6" x2="376.8" y2="740.9" stroke="#231f20" stroke-width="2" />
<line x1="366.8" y1="740.9" x2="386.8" y2="740.9" stroke="#231f20" stroke-width="2" />
<line x1="434.9" y1="659.4" x2="434.9" y2="613.9" stroke="#231f20" stroke-width="2" />
<line x1="424.9" y1="613.9" x2="444.9" y2="613.9" stroke="#231f20" stroke-width="2" />
<text x="349.9" y="583.5" font-size="20.5" fill="#231f20"><tspan font-style="italic">P</tspan> = 0.0062</text>
<line x1="366.7" y1="593.3" x2="433.9" y2="593.3" stroke="#231f20" stroke-width="1.6" />
<text x="284.5" y="676.9" font-size="20.5" text-anchor="middle" fill="#231f20" transform="rotate(-90 284.5 676.9)">CD34<tspan font-size="12.7" dy="-12.2">+</tspan><tspan dy="12.2" font-size="1">&#8203;</tspan>CD90<tspan font-size="12.7" dy="-12.2">+</tspan><tspan dy="12.2" font-size="1">&#8203;</tspan> (%)</text>
<text x="384.3" y="820.8" font-size="20.5" text-anchor="end" fill="#231f20" transform="rotate(-45 384.3 820.8)">Control</text>
<text x="442.8" y="819.5" font-size="20.8" text-anchor="end" fill="#1c9ad6" transform="rotate(-45 442.8 819.5)">GPR OE</text>
<text transform="translate(516.0 483.0) scale(0.9 1)" font-size="30.5" font-weight="bold" fill="#231f20" stroke="#231f20" stroke-width="0.5">h</text>
<text x="829.7" y="490.6" font-size="20.7" text-anchor="middle" fill="#231f20">Volcano plot of control and GPR OE</text>
<circle cx="599.6" cy="516.4" r="6.4" fill="#2b95d3" stroke="#231f20" stroke-width="0" />
<text x="624.6" y="525.0" font-size="20.5" fill="#231f20">Up in GPR OE</text>
<circle cx="792.2" cy="517.0" r="6.4" fill="#e6e7e8" stroke="#231f20" stroke-width="0" />
<text x="817.0" y="525.0" font-size="20.5" fill="#231f20">Down in GPR OE</text>
<circle cx="1008.5" cy="518.7" r="6.2" fill="#231f20" stroke="#231f20" stroke-width="0" />
<text x="1028.6" y="525.0" font-size="20.5" fill="#231f20">NS</text>
<line x1="673.3" y1="541.0" x2="673.3" y2="774.8" stroke="#ececec" stroke-width="1" />
<line x1="775.7" y1="541.0" x2="775.7" y2="774.8" stroke="#ececec" stroke-width="1" />
<line x1="878.1" y1="541.0" x2="878.1" y2="774.8" stroke="#ececec" stroke-width="1" />
<line x1="980.5" y1="541.0" x2="980.5" y2="774.8" stroke="#ececec" stroke-width="1" />
<line x1="605.4" y1="726.1" x2="1054.0" y2="726.1" stroke="#ececec" stroke-width="1" />
<line x1="605.4" y1="649.2" x2="1054.0" y2="649.2" stroke="#ececec" stroke-width="1" />
<line x1="605.4" y1="572.2" x2="1054.0" y2="572.2" stroke="#ececec" stroke-width="1" />
<line x1="622.1" y1="541.0" x2="622.1" y2="774.8" stroke="#e5e5e5" stroke-width="2.9" />
<line x1="724.5" y1="541.0" x2="724.5" y2="774.8" stroke="#e5e5e5" stroke-width="2.9" />
<line x1="826.9" y1="541.0" x2="826.9" y2="774.8" stroke="#e5e5e5" stroke-width="2.9" />
<line x1="929.3" y1="541.0" x2="929.3" y2="774.8" stroke="#e5e5e5" stroke-width="2.9" />
<line x1="1031.7" y1="541.0" x2="1031.7" y2="774.8" stroke="#e5e5e5" stroke-width="2.9" />
<line x1="605.4" y1="764.6" x2="1054.0" y2="764.6" stroke="#e5e5e5" stroke-width="2.9" />
<line x1="605.4" y1="687.6" x2="1054.0" y2="687.6" stroke="#e5e5e5" stroke-width="2.9" />
<line x1="605.4" y1="610.7" x2="1054.0" y2="610.7" stroke="#e5e5e5" stroke-width="2.9" />
<g fill="#d5d7d6" fill-opacity="0.85">
<circle cx="658.4" cy="751.7" r="4.6"/>
<circle cx="663.0" cy="752.0" r="4.6"/>
<circle cx="669.3" cy="730.7" r="4.6"/>
<circle cx="672.1" cy="751.7" r="4.6"/>
<circle cx="677.6" cy="752.6" r="4.6"/>
<circle cx="683.0" cy="753.1" r="4.6"/>
<circle cx="688.5" cy="749.9" r="4.6"/>
<circle cx="691.2" cy="748.0" r="4.6"/>
<circle cx="697.6" cy="738.9" r="4.6"/>
<circle cx="698.5" cy="746.2" r="4.6"/>
<circle cx="694.9" cy="752.6" r="4.6"/>
<circle cx="702.2" cy="749.9" r="4.6"/>
<circle cx="704.0" cy="755.3" r="4.6"/>
<circle cx="704.9" cy="759.0" r="4.6"/>
<circle cx="700.4" cy="758.1" r="4.6"/>
<circle cx="685.8" cy="751.7" r="4.6"/>
<circle cx="701.3" cy="744.4" r="4.6"/>
<circle cx="697" cy="737.5" r="4.6"/>
<circle cx="699.5" cy="741" r="4.6"/>
<circle cx="702" cy="745" r="4.6"/>
<circle cx="704" cy="749.5" r="4.6"/>
<circle cx="705.5" cy="753" r="4.6"/>
<circle cx="699" cy="749" r="4.6"/>
<circle cx="695" cy="752" r="4.6"/>
<circle cx="701.5" cy="753.5" r="4.6"/>
<circle cx="692" cy="751.5" r="4.6"/>
<circle cx="688" cy="752" r="4.6"/>
<circle cx="684" cy="752.5" r="4.6"/>
<circle cx="706.5" cy="757" r="4.6"/>
</g>
<g fill="#2b95d3" fill-opacity="0.82">
<circle cx="806.6" cy="571.4" r="4.8"/>
<circle cx="867.7" cy="632.2" r="4.8"/>
<circle cx="865.1" cy="651.7" r="4.8"/>
<circle cx="813.5" cy="659.5" r="4.8"/>
<circle cx="799.3" cy="663.5" r="4.8"/>
<circle cx="826.6" cy="664.5" r="4.8"/>
<circle cx="781.6" cy="676.9" r="4.8"/>
<circle cx="781.2" cy="678.7" r="4.8"/>
<circle cx="805.8" cy="679.6" r="4.8"/>
<circle cx="825.4" cy="680.5" r="4.8"/>
<circle cx="844.9" cy="679.6" r="4.8"/>
<circle cx="881.9" cy="686.5" r="4.8"/>
<circle cx="848.7" cy="691.1" r="4.8"/>
<circle cx="822.6" cy="687.8" r="4.8"/>
<circle cx="816.2" cy="691.5" r="4.8"/>
<circle cx="813.9" cy="696.6" r="4.8"/>
<circle cx="788.0" cy="695.1" r="4.8"/>
<circle cx="796.2" cy="696.0" r="4.8"/>
<circle cx="791.6" cy="698.8" r="4.8"/>
<circle cx="801.6" cy="701.5" r="4.8"/>
<circle cx="775.5" cy="701.5" r="4.8"/>
<circle cx="833.6" cy="706.1" r="4.8"/>
<circle cx="787.0" cy="706.1" r="4.8"/>
<circle cx="807.1" cy="712.4" r="4.8"/>
<circle cx="798.0" cy="713.4" r="4.8"/>
<circle cx="773.4" cy="711.5" r="4.8"/>
<circle cx="819.0" cy="716.1" r="4.8"/>
<circle cx="826.3" cy="716.1" r="4.8"/>
<circle cx="832.7" cy="717.0" r="4.8"/>
<circle cx="811.7" cy="721.6" r="4.8"/>
<circle cx="801.6" cy="722.5" r="4.8"/>
<circle cx="829.0" cy="725.2" r="4.8"/>
<circle cx="816.2" cy="726.1" r="4.8"/>
<circle cx="802.6" cy="726.1" r="4.8"/>
<circle cx="757.8" cy="725.2" r="4.8"/>
<circle cx="821.7" cy="734.3" r="4.8"/>
<circle cx="816.2" cy="737.1" r="4.8"/>
<circle cx="782.5" cy="708.8" r="4.8"/>
<circle cx="778.8" cy="712.4" r="4.8"/>
<circle cx="767.9" cy="717.9" r="4.8"/>
<circle cx="763.3" cy="722.5" r="4.8"/>
<circle cx="791.6" cy="712.4" r="4.8"/>
<circle cx="796.2" cy="719.7" r="4.8"/>
<circle cx="786.1" cy="708.8" r="4.8"/>
<circle cx="793.4" cy="705.1" r="4.8"/>
<circle cx="771.5" cy="719.7" r="4.8"/>
<circle cx="758.8" cy="729.8" r="4.8"/>
<circle cx="800.7" cy="729.8" r="4.8"/>
<circle cx="806.2" cy="733.4" r="4.8"/>
<circle cx="784.3" cy="704.2" r="4.8"/>
<circle cx="777.9" cy="707.9" r="4.8"/>
<circle cx="798.9" cy="725.2" r="4.8"/>
<circle cx="804.4" cy="719.7" r="4.8"/>
<circle cx="753.3" cy="733.4" r="4.8"/>
<circle cx="765.1" cy="720.7" r="4.8"/>
<circle cx="1000.5" cy="553.8" r="4.8"/>
</g>
<g fill="#2492ce">
<circle cx="781.7" cy="736.3" r="4.8"/>
<circle cx="774.8" cy="755.9" r="4.8"/>
<circle cx="784.1" cy="737.2" r="4.8"/>
<circle cx="766.4" cy="755.9" r="4.8"/>
<circle cx="756.8" cy="744.8" r="4.8"/>
<circle cx="788.9" cy="735.4" r="4.8"/>
<circle cx="783.5" cy="720.0" r="4.8"/>
<circle cx="792.1" cy="737.7" r="4.8"/>
<circle cx="767.8" cy="744.6" r="4.8"/>
<circle cx="777.2" cy="733.0" r="4.8"/>
<circle cx="801.7" cy="750.6" r="4.8"/>
<circle cx="762.1" cy="744.4" r="4.8"/>
<circle cx="781.8" cy="758.4" r="4.8"/>
<circle cx="774.6" cy="752.1" r="4.8"/>
<circle cx="754.5" cy="740.4" r="4.8"/>
<circle cx="745.0" cy="749.4" r="4.8"/>
<circle cx="799.0" cy="744.4" r="4.8"/>
<circle cx="793.4" cy="745.2" r="4.8"/>
<circle cx="783.8" cy="739.4" r="4.8"/>
<circle cx="778.5" cy="746.8" r="4.8"/>
<circle cx="746.8" cy="751.1" r="4.8"/>
<circle cx="772.9" cy="747.8" r="4.8"/>
<circle cx="746.5" cy="754.5" r="4.8"/>
<circle cx="772.3" cy="758.4" r="4.8"/>
<circle cx="783.6" cy="758.9" r="4.8"/>
<circle cx="764.9" cy="737.1" r="4.8"/>
<circle cx="769.9" cy="759.2" r="4.8"/>
<circle cx="761.3" cy="740.2" r="4.8"/>
<circle cx="785.9" cy="730.5" r="4.8"/>
<circle cx="772.3" cy="743.4" r="4.8"/>
<circle cx="780.5" cy="744.4" r="4.8"/>
<circle cx="773.9" cy="737.1" r="4.8"/>
<circle cx="750.4" cy="747.6" r="4.8"/>
<circle cx="743.6" cy="760.0" r="4.8"/>
<circle cx="788.2" cy="724.4" r="4.8"/>
<circle cx="762.6" cy="733.7" r="4.8"/>
<circle cx="770.4" cy="723.0" r="4.8"/>
<circle cx="780.3" cy="741.2" r="4.8"/>
<circle cx="769.3" cy="730.3" r="4.8"/>
<circle cx="782.0" cy="724.6" r="4.8"/>
<circle cx="783.2" cy="718.0" r="4.8"/>
<circle cx="763.4" cy="734.7" r="4.8"/>
<circle cx="755.3" cy="754.3" r="4.8"/>
<circle cx="782.2" cy="753.2" r="4.8"/>
<circle cx="768.2" cy="728.1" r="4.8"/>
<circle cx="760.7" cy="741.7" r="4.8"/>
<circle cx="763.0" cy="750.0" r="4.8"/>
<circle cx="814.9" cy="738.2" r="4.8"/>
<circle cx="805.3" cy="739.9" r="4.8"/>
<circle cx="790.9" cy="755.0" r="4.8"/>
<circle cx="748.8" cy="748.9" r="4.8"/>
<circle cx="797.8" cy="739.9" r="4.8"/>
<circle cx="756.2" cy="755.2" r="4.8"/>
<circle cx="768.3" cy="755.0" r="4.8"/>
<circle cx="772.9" cy="762.5" r="4.8"/>
<circle cx="753.5" cy="757.2" r="4.8"/>
<circle cx="770.9" cy="742.8" r="4.8"/>
<circle cx="782.0" cy="761.6" r="4.8"/>
<circle cx="775.4" cy="758.3" r="4.8"/>
<circle cx="762.4" cy="731.1" r="4.8"/>
<circle cx="761.8" cy="744.9" r="4.8"/>
<circle cx="763.3" cy="737.2" r="4.8"/>
<circle cx="752.1" cy="761.6" r="4.8"/>
<circle cx="771.2" cy="739.2" r="4.8"/>
<circle cx="774.4" cy="760.8" r="4.8"/>
<circle cx="778.8" cy="739.9" r="4.8"/>
<circle cx="781.8" cy="717.6" r="4.8"/>
<circle cx="776.0" cy="726.6" r="4.8"/>
<circle cx="756.2" cy="739.6" r="4.8"/>
<circle cx="795.7" cy="743.5" r="4.8"/>
<circle cx="768.9" cy="741.7" r="4.8"/>
<circle cx="783.7" cy="753.6" r="4.8"/>
<circle cx="750.7" cy="743.9" r="4.8"/>
<circle cx="762.0" cy="730.3" r="4.8"/>
<circle cx="799.6" cy="741.3" r="4.8"/>
<circle cx="784.1" cy="752.3" r="4.8"/>
<circle cx="811.3" cy="738.1" r="4.8"/>
<circle cx="786.3" cy="741.1" r="4.8"/>
<circle cx="780.6" cy="748.4" r="4.8"/>
<circle cx="778.9" cy="741.0" r="4.8"/>
<circle cx="778.5" cy="762.0" r="4.8"/>
<circle cx="747.8" cy="749.4" r="4.8"/>
<circle cx="754.4" cy="751.6" r="4.8"/>
<circle cx="759.1" cy="763.5" r="4.8"/>
<circle cx="774.9" cy="740.5" r="4.8"/>
<circle cx="755.3" cy="737.6" r="4.8"/>
<circle cx="780.7" cy="735.1" r="4.8"/>
<circle cx="781.9" cy="739.3" r="4.8"/>
<circle cx="787.3" cy="741.4" r="4.8"/>
<circle cx="746.6" cy="765.7" r="4.8"/>
<circle cx="744.9" cy="755.1" r="4.8"/>
<circle cx="774.5" cy="760.5" r="4.8"/>
<circle cx="753.6" cy="762.0" r="4.8"/>
<circle cx="784.4" cy="749.2" r="4.8"/>
<circle cx="792.7" cy="737.6" r="4.8"/>
<circle cx="747.3" cy="763.2" r="4.8"/>
<circle cx="789.5" cy="754.9" r="4.8"/>
<circle cx="748.4" cy="758.9" r="4.8"/>
<circle cx="747.0" cy="759.3" r="4.8"/>
<circle cx="777.4" cy="735.1" r="4.8"/>
<circle cx="781.7" cy="729.6" r="4.8"/>
<circle cx="767.2" cy="732.0" r="4.8"/>
<circle cx="780.0" cy="726.4" r="4.8"/>
<circle cx="796.4" cy="743.3" r="4.8"/>
<circle cx="757.6" cy="739.7" r="4.8"/>
<circle cx="803.5" cy="737.6" r="4.8"/>
<circle cx="779.7" cy="756.2" r="4.8"/>
<circle cx="774.5" cy="741.1" r="4.8"/>
<circle cx="768.9" cy="756.6" r="4.8"/>
<circle cx="794.4" cy="747.2" r="4.8"/>
<circle cx="774.4" cy="735.0" r="4.8"/>
<circle cx="747.5" cy="753.0" r="4.8"/>
<circle cx="748.5" cy="758.1" r="4.8"/>
<circle cx="764.6" cy="728.7" r="4.8"/>
<circle cx="766.2" cy="739.1" r="4.8"/>
<circle cx="754.9" cy="738.3" r="4.8"/>
<circle cx="762.4" cy="763.8" r="4.8"/>
<circle cx="761.0" cy="764.1" r="4.8"/>
<circle cx="767.2" cy="734.5" r="4.8"/>
<circle cx="781.2" cy="740.4" r="4.8"/>
<circle cx="758.6" cy="741.1" r="4.8"/>
<circle cx="766.3" cy="728.4" r="4.8"/>
<circle cx="784.2" cy="741.9" r="4.8"/>
<circle cx="798.0" cy="748.4" r="4.8"/>
<circle cx="773.1" cy="733.7" r="4.8"/>
<circle cx="795.9" cy="747.6" r="4.8"/>
<circle cx="745.2" cy="758.0" r="4.8"/>
<circle cx="753.4" cy="742.1" r="4.8"/>
<circle cx="780.3" cy="756.2" r="4.8"/>
<circle cx="786.1" cy="759.6" r="4.8"/>
<circle cx="792.7" cy="749.8" r="4.8"/>
<circle cx="750.2" cy="757.8" r="4.8"/>
<circle cx="783.0" cy="745.5" r="4.8"/>
<circle cx="788.3" cy="748.8" r="4.8"/>
<circle cx="778.9" cy="740.1" r="4.8"/>
<circle cx="779.5" cy="737.6" r="4.8"/>
<circle cx="778.7" cy="747.8" r="4.8"/>
<circle cx="799.3" cy="746.5" r="4.8"/>
<circle cx="791.9" cy="749.7" r="4.8"/>
<circle cx="792.2" cy="731.3" r="4.8"/>
<circle cx="779.1" cy="741.0" r="4.8"/>
<circle cx="777.7" cy="723.1" r="4.8"/>
<circle cx="776.8" cy="731.3" r="4.8"/>
<circle cx="758.3" cy="763.1" r="4.8"/>
<circle cx="759.3" cy="744.8" r="4.8"/>
<circle cx="753.7" cy="742.1" r="4.8"/>
<circle cx="803.6" cy="741.3" r="4.8"/>
<circle cx="760.1" cy="760.5" r="4.8"/>
<circle cx="779.1" cy="717.9" r="4.8"/>
<circle cx="777.0" cy="733.1" r="4.8"/>
<circle cx="766.9" cy="757.1" r="4.8"/>
<circle cx="772.3" cy="736.7" r="4.8"/>
<circle cx="771.6" cy="738.0" r="4.8"/>
<circle cx="749.9" cy="757.8" r="4.8"/>
<circle cx="764.2" cy="762.3" r="4.8"/>
<circle cx="762.1" cy="729.7" r="4.8"/>
<circle cx="780.8" cy="727.0" r="4.8"/>
<circle cx="770.8" cy="763.1" r="4.8"/>
<circle cx="813.6" cy="743.4" r="4.8"/>
<circle cx="796.3" cy="738.6" r="4.8"/>
<circle cx="798.2" cy="747.8" r="4.8"/>
<circle cx="778.4" cy="735.5" r="4.8"/>
<circle cx="765.9" cy="752.0" r="4.8"/>
<circle cx="790.6" cy="731.9" r="4.8"/>
<circle cx="782.7" cy="737.4" r="4.8"/>
<circle cx="758.3" cy="761.1" r="4.8"/>
<circle cx="779.8" cy="728.7" r="4.8"/>
<circle cx="776.6" cy="724.2" r="4.8"/>
<circle cx="785.0" cy="759.2" r="4.8"/>
<circle cx="797.8" cy="736.8" r="4.8"/>
<circle cx="776.2" cy="741.5" r="4.8"/>
<circle cx="772.3" cy="734.2" r="4.8"/>
<circle cx="780.0" cy="744.9" r="4.8"/>
<circle cx="763.7" cy="729.0" r="4.8"/>
<circle cx="774.9" cy="739.1" r="4.8"/>
<circle cx="744.4" cy="751.5" r="4.8"/>
<circle cx="809.9" cy="739.6" r="4.8"/>
<circle cx="772.2" cy="761.4" r="4.8"/>
<circle cx="781.2" cy="747.9" r="4.8"/>
<circle cx="790.3" cy="753.1" r="4.8"/>
<circle cx="778.8" cy="741.4" r="4.8"/>
<circle cx="744.9" cy="755.2" r="4.8"/>
<circle cx="760.2" cy="761.7" r="4.8"/>
<circle cx="789.8" cy="732.1" r="4.8"/>
<circle cx="789.1" cy="749.7" r="4.8"/>
<circle cx="780.5" cy="742.8" r="4.8"/>
<circle cx="772.5" cy="728.5" r="4.8"/>
<circle cx="766.9" cy="739.2" r="4.8"/>
<circle cx="808.9" cy="739.7" r="4.8"/>
<circle cx="779.8" cy="747.3" r="4.8"/>
<circle cx="774.8" cy="730.5" r="4.8"/>
<circle cx="769.8" cy="737.6" r="4.8"/>
<circle cx="780.3" cy="727.9" r="4.8"/>
<circle cx="759.8" cy="753.5" r="4.8"/>
<circle cx="764.9" cy="763.1" r="4.8"/>
<circle cx="779.7" cy="726.9" r="4.8"/>
<circle cx="760.4" cy="737.0" r="4.8"/>
<circle cx="758.5" cy="764.6" r="4.8"/>
<circle cx="756.4" cy="762.7" r="4.8"/>
<circle cx="790.9" cy="735.5" r="4.8"/>
<circle cx="772.0" cy="733.9" r="4.8"/>
<circle cx="764.8" cy="734.1" r="4.8"/>
<circle cx="770.0" cy="755.9" r="4.8"/>
<circle cx="803.8" cy="737.6" r="4.8"/>
<circle cx="770.9" cy="761.1" r="4.8"/>
<circle cx="757.8" cy="734.4" r="4.8"/>
<circle cx="773.9" cy="755.1" r="4.8"/>
<circle cx="769.1" cy="730.6" r="4.8"/>
<circle cx="763.2" cy="751.1" r="4.8"/>
<circle cx="767.4" cy="730.6" r="4.8"/>
<circle cx="761.3" cy="739.7" r="4.8"/>
<circle cx="772.5" cy="729.9" r="4.8"/>
<circle cx="777.6" cy="740.7" r="4.8"/>
<circle cx="786.8" cy="733.6" r="4.8"/>
<circle cx="768.0" cy="734.8" r="4.8"/>
<circle cx="757.8" cy="753.2" r="4.8"/>
<circle cx="794.5" cy="738.5" r="4.8"/>
<circle cx="761.3" cy="737.0" r="4.8"/>
<circle cx="787.8" cy="748.4" r="4.8"/>
<circle cx="783.6" cy="736.2" r="4.8"/>
<circle cx="754.0" cy="760.1" r="4.8"/>
<circle cx="784.7" cy="733.9" r="4.8"/>
<circle cx="780.5" cy="729.3" r="4.8"/>
<circle cx="802.8" cy="748.4" r="4.8"/>
<circle cx="778.3" cy="755.3" r="4.8"/>
<circle cx="807.4" cy="738.4" r="4.8"/>
<circle cx="762.8" cy="754.2" r="4.8"/>
<circle cx="785.6" cy="745.6" r="4.8"/>
<circle cx="759.8" cy="734.6" r="4.8"/>
<circle cx="762.9" cy="745.5" r="4.8"/>
<circle cx="790.7" cy="727.0" r="4.8"/>
<circle cx="766.8" cy="726.9" r="4.8"/>
<circle cx="801.5" cy="743.2" r="4.8"/>
<circle cx="774.5" cy="742.6" r="4.8"/>
<circle cx="755.2" cy="750.5" r="4.8"/>
<circle cx="774.3" cy="731.8" r="4.8"/>
<circle cx="765.9" cy="763.1" r="4.8"/>
<circle cx="767.7" cy="743.8" r="4.8"/>
<circle cx="771.3" cy="737.5" r="4.8"/>
<circle cx="770.6" cy="726.9" r="4.8"/>
<circle cx="774.8" cy="755.5" r="4.8"/>
<circle cx="773.4" cy="759.0" r="4.8"/>
<circle cx="777.4" cy="725.5" r="4.8"/>
<circle cx="749.2" cy="747.0" r="4.8"/>
<circle cx="772.7" cy="741.0" r="4.8"/>
<circle cx="781.6" cy="761.2" r="4.8"/>
<circle cx="778.8" cy="719.5" r="4.8"/>
<circle cx="773.4" cy="757.0" r="4.8"/>
<circle cx="759.9" cy="736.1" r="4.8"/>
<circle cx="780.6" cy="737.5" r="4.8"/>
<circle cx="785.4" cy="742.7" r="4.8"/>
<circle cx="788.4" cy="732.4" r="4.8"/>
<circle cx="776.0" cy="743.4" r="4.8"/>
<circle cx="775.7" cy="746.9" r="4.8"/>
<circle cx="778.1" cy="739.7" r="4.8"/>
<circle cx="779.3" cy="729.5" r="4.8"/>
<circle cx="777.2" cy="726.4" r="4.8"/>
<circle cx="778.2" cy="722.5" r="4.8"/>
<circle cx="780.8" cy="718.8" r="4.8"/>
<circle cx="797.0" cy="754.3" r="4.8"/>
<circle cx="780.9" cy="719.5" r="4.8"/>
<circle cx="779.9" cy="737.3" r="4.8"/>
<circle cx="756.9" cy="765.1" r="4.8"/>
<circle cx="780.2" cy="760.9" r="4.8"/>
<circle cx="780.2" cy="734.1" r="4.8"/>
<circle cx="754.5" cy="762.8" r="4.8"/>
<circle cx="755.4" cy="755.0" r="4.8"/>
<circle cx="751.4" cy="742.4" r="4.8"/>
<circle cx="788.8" cy="734.9" r="4.8"/>
<circle cx="808.0" cy="743.6" r="4.8"/>
<circle cx="785.8" cy="759.0" r="4.8"/>
<circle cx="749.8" cy="766.0" r="4.8"/>
<circle cx="788.1" cy="736.5" r="4.8"/>
<circle cx="770.5" cy="752.9" r="4.8"/>
<circle cx="776.1" cy="726.2" r="4.8"/>
<circle cx="785.2" cy="747.5" r="4.8"/>
<circle cx="786.8" cy="738.2" r="4.8"/>
<circle cx="781.0" cy="759.5" r="4.8"/>
<circle cx="760.4" cy="744.8" r="4.8"/>
<circle cx="786.1" cy="727.5" r="4.8"/>
<circle cx="787.3" cy="739.9" r="4.8"/>
<circle cx="752.3" cy="762.9" r="4.8"/>
<circle cx="749.8" cy="747.8" r="4.8"/>
<circle cx="773.6" cy="730.7" r="4.8"/>
<circle cx="783.5" cy="735.2" r="4.8"/>
<circle cx="789.2" cy="738.5" r="4.8"/>
<circle cx="761.5" cy="760.8" r="4.8"/>
<circle cx="773.8" cy="729.3" r="4.8"/>
<circle cx="746.5" cy="755.0" r="4.8"/>
<circle cx="758.4" cy="746.1" r="4.8"/>
<circle cx="780.2" cy="745.6" r="4.8"/>
<circle cx="767.0" cy="731.8" r="4.8"/>
<circle cx="745.5" cy="760.7" r="4.8"/>
<circle cx="800.8" cy="751.4" r="4.8"/>
<circle cx="742.1" cy="758.5" r="4.8"/>
<circle cx="797.4" cy="739.3" r="4.8"/>
<circle cx="797.1" cy="738.7" r="4.8"/>
<circle cx="768.7" cy="752.3" r="4.8"/>
<circle cx="782.0" cy="739.1" r="4.8"/>
<circle cx="801.0" cy="742.0" r="4.8"/>
<circle cx="763.7" cy="747.5" r="4.8"/>
<circle cx="760.7" cy="761.0" r="4.8"/>
<circle cx="788.7" cy="749.4" r="4.8"/>
<circle cx="777.9" cy="756.4" r="4.8"/>
<circle cx="776.0" cy="750.3" r="4.8"/>
<circle cx="784.3" cy="733.0" r="4.8"/>
<circle cx="759.4" cy="746.8" r="4.8"/>
<circle cx="747.8" cy="761.8" r="4.8"/>
<circle cx="750.1" cy="762.6" r="4.8"/>
<circle cx="769.0" cy="723.9" r="4.8"/>
<circle cx="793.3" cy="747.0" r="4.8"/>
<circle cx="794.0" cy="752.0" r="4.8"/>
<circle cx="747.3" cy="745.4" r="4.8"/>
<circle cx="770.5" cy="755.7" r="4.8"/>
<circle cx="746.9" cy="759.6" r="4.8"/>
<circle cx="789.6" cy="756.2" r="4.8"/>
<circle cx="788.8" cy="731.4" r="4.8"/>
<circle cx="768.3" cy="737.6" r="4.8"/>
<circle cx="764.8" cy="751.0" r="4.8"/>
<circle cx="771.5" cy="733.3" r="4.8"/>
<circle cx="815.5" cy="741.1" r="4.8"/>
<circle cx="806.3" cy="746.7" r="4.8"/>
<circle cx="775.8" cy="752.9" r="4.8"/>
<circle cx="769.8" cy="750.0" r="4.8"/>
<circle cx="782.5" cy="728.4" r="4.8"/>
<circle cx="779.5" cy="754.1" r="4.8"/>
<circle cx="757.2" cy="740.6" r="4.8"/>
<circle cx="769.2" cy="756.5" r="4.8"/>
<circle cx="762.3" cy="762.8" r="4.8"/>
<circle cx="764.6" cy="727.4" r="4.8"/>
</g>
<path d="M706.2,765.5 L707.5,754.5 L709.5,752.8 C715,756.5 720,760 725,760 C730,760 735,755.5 739.6,751.8 L741.5,755.5 L743.3,758 L742.5,768 C735,769.6 714,769.6 706.8,768.2Z" fill="#0a0a0a"/>
<g fill="#0a0a0a">
<circle cx="707.5" cy="764.2" r="3.4"/>
<circle cx="708.9" cy="764.4" r="3.4"/>
<circle cx="710.2" cy="764.5" r="3.4"/>
<circle cx="711.5" cy="764.5" r="3.4"/>
<circle cx="712.9" cy="764.6" r="3.4"/>
<circle cx="714.2" cy="764.8" r="3.4"/>
<circle cx="715.6" cy="764.9" r="3.4"/>
<circle cx="717.0" cy="765.0" r="3.4"/>
<circle cx="718.3" cy="765.0" r="3.4"/>
<circle cx="719.6" cy="765.1" r="3.4"/>
<circle cx="721.0" cy="765.2" r="3.4"/>
<circle cx="722.4" cy="765.4" r="3.4"/>
<circle cx="723.7" cy="765.5" r="3.4"/>
<circle cx="725.0" cy="765.5" r="3.4"/>
<circle cx="726.4" cy="765.4" r="3.4"/>
<circle cx="727.8" cy="765.2" r="3.4"/>
<circle cx="729.1" cy="765.1" r="3.4"/>
<circle cx="730.5" cy="765.0" r="3.4"/>
<circle cx="731.8" cy="765.0" r="3.4"/>
<circle cx="733.1" cy="764.9" r="3.4"/>
<circle cx="734.5" cy="764.8" r="3.4"/>
<circle cx="735.9" cy="764.6" r="3.4"/>
<circle cx="737.2" cy="764.5" r="3.4"/>
<circle cx="738.5" cy="764.5" r="3.4"/>
<circle cx="739.9" cy="764.4" r="3.4"/>
<circle cx="741.2" cy="764.2" r="3.4"/>
<circle cx="705.5" cy="764.5" r="3.1"/>
<circle cx="709.5" cy="757.5" r="3.1"/>
<circle cx="708" cy="761" r="3.1"/>
<circle cx="739.5" cy="757" r="3.1"/>
<circle cx="741" cy="760.5" r="3.1"/>
<circle cx="742.5" cy="763.5" r="3.1"/>
<circle cx="737" cy="758.5" r="3.1"/>
</g>
<line x1="707.4" y1="541.0" x2="707.4" y2="774.8" stroke="#231f20" stroke-width="2.3" stroke-dasharray="22.9,9.6" stroke-dashoffset="15.4"/>
<line x1="741.6" y1="541.0" x2="741.6" y2="774.8" stroke="#231f20" stroke-width="2.3" stroke-dasharray="22.9,9.6" stroke-dashoffset="15.4"/>
<line x1="605.4" y1="765.6" x2="1054.9" y2="765.6" stroke="#231f20" stroke-width="2.4" stroke-dasharray="22.1,9.8" stroke-dashoffset="1.4"/>
<line x1="679.5" y1="702.3" x2="706.0" y2="761.4" stroke="#58595b" stroke-width="1.6" />
<line x1="656.5" y1="721.5" x2="704.4" y2="763.0" stroke="#58595b" stroke-width="1.6" />
<line x1="688.0" y1="745.4" x2="705.0" y2="762.5" stroke="#58595b" stroke-width="1.6" />
<line x1="806.6" y1="571.4" x2="806.6" y2="580.0" stroke="#6d6e71" stroke-width="5" stroke-linecap="round"/>
<line x1="1000.5" y1="553.8" x2="1000.5" y2="563.4" stroke="#6d6e71" stroke-width="5" stroke-linecap="round"/>
<rect x="964.7" y="563.4" width="68.7" height="16.0" fill="#ffffff" stroke="#231f20" stroke-width="1.8" rx="2.5" />
<text x="999.1" y="575.6" font-size="11.7" text-anchor="middle" fill="#231f20">GPRC5C</text>
<rect x="783.6" y="580.0" width="45.4" height="16.3" fill="#ffffff" stroke="#231f20" stroke-width="1.8" rx="2.5" />
<text x="806.3" y="592.4" font-size="11.7" text-anchor="middle" fill="#231f20">FCN1</text>
<rect x="657.5" y="685.7" width="45.3" height="16.6" fill="#ffffff" stroke="#231f20" stroke-width="1.8" rx="2.5" />
<text x="680.1" y="698.2" font-size="11.7" text-anchor="middle" fill="#231f20">CDK6</text>
<rect x="623.0" y="704.9" width="56.5" height="16.6" fill="#ffffff" stroke="#231f20" stroke-width="1.8" rx="2.5" />
<text x="651.2" y="717.4" font-size="11.7" text-anchor="middle" fill="#231f20">RUNX1</text>
<rect x="645.3" y="728.8" width="44.7" height="16.6" fill="#ffffff" stroke="#231f20" stroke-width="1.8" rx="2.5" />
<text x="667.6" y="741.3" font-size="11.7" text-anchor="middle" fill="#231f20">CD34</text>
<rect x="656.5" y="755.0" width="41.5" height="16.0" fill="#ffffff" stroke="#231f20" stroke-width="1.8" rx="2.5" />
<text x="677.2" y="767.2" font-size="11.7" text-anchor="middle" fill="#231f20">MYC</text>
<rect x="800.9" y="744.8" width="58.4" height="16.6" fill="#ffffff" stroke="#231f20" stroke-width="1.8" rx="2.5" />
<text x="830.1" y="757.3" font-size="11.7" text-anchor="middle" fill="#231f20">PROCR</text>
<line x1="605.4" y1="541.0" x2="605.4" y2="774.8" stroke="#4a4a4a" stroke-width="1.4" />
<line x1="605.4" y1="774.8" x2="1054.0" y2="774.8" stroke="#4a4a4a" stroke-width="1.4" />
<line x1="622.1" y1="774.8" x2="622.1" y2="780.3" stroke="#4a4a4a" stroke-width="1.4" />
<text x="620.6" y="810.0" font-size="20.5" text-anchor="middle" fill="#231f20">–3</text>
<line x1="724.5" y1="774.8" x2="724.5" y2="780.3" stroke="#4a4a4a" stroke-width="1.4" />
<text x="724.5" y="810.0" font-size="20.5" text-anchor="middle" fill="#231f20">0</text>
<line x1="826.9" y1="774.8" x2="826.9" y2="780.3" stroke="#4a4a4a" stroke-width="1.4" />
<text x="826.9" y="810.0" font-size="20.5" text-anchor="middle" fill="#231f20">3</text>
<line x1="929.3" y1="774.8" x2="929.3" y2="780.3" stroke="#4a4a4a" stroke-width="1.4" />
<text x="929.3" y="810.0" font-size="20.5" text-anchor="middle" fill="#231f20">6</text>
<line x1="1031.7" y1="774.8" x2="1031.7" y2="780.3" stroke="#4a4a4a" stroke-width="1.4" />
<text x="1031.7" y="810.0" font-size="20.5" text-anchor="middle" fill="#231f20">9</text>
<line x1="598.9" y1="764.6" x2="605.4" y2="764.6" stroke="#4a4a4a" stroke-width="1.4" />
<text x="585.8" y="771.8" font-size="20.5" text-anchor="end" fill="#231f20">0</text>
<line x1="598.9" y1="687.6" x2="605.4" y2="687.6" stroke="#4a4a4a" stroke-width="1.4" />
<text x="585.8" y="694.9" font-size="20.5" text-anchor="end" fill="#231f20">100</text>
<line x1="598.9" y1="610.7" x2="605.4" y2="610.7" stroke="#4a4a4a" stroke-width="1.4" />
<text x="585.8" y="617.9" font-size="20.5" text-anchor="end" fill="#231f20">200</text>
<text x="829.0" y="843.8" font-size="20.5" text-anchor="middle" fill="#231f20">log<tspan font-size="13" dy="5">2</tspan><tspan dy="-5" font-size="1">&#8203;</tspan>FC</text>
<text x="530.5" y="658.3" font-size="20.5" text-anchor="middle" fill="#231f20" transform="rotate(-90 530.5 658.3)">–log<tspan font-size="13" dy="5">2</tspan><tspan dy="-5" font-size="1">&#8203;</tspan>(adjusted <tspan font-style="italic">P</tspan>)</text>
<text transform="translate(1098.5 483.2) scale(0.9 1)" font-size="30.5" font-weight="bold" fill="#231f20" stroke="#231f20" stroke-width="0.5">i</text>
<text x="1324.0" y="490.5" font-size="21.0" text-anchor="middle" fill="#231f20">GPRC5C-OE signature</text>
<rect x="1190.4" y="535.3" width="267.6" height="239.0" fill="none" stroke="#3a3a3a" stroke-width="1.2" />
<line x1="1184.0" y1="544.5" x2="1190.4" y2="544.5" stroke="#3a3a3a" stroke-width="1.2" />
<text x="1172.5" y="551.7" font-size="20.5" text-anchor="end" fill="#231f20">260</text>
<line x1="1184.0" y1="588.7" x2="1190.4" y2="588.7" stroke="#3a3a3a" stroke-width="1.2" />
<text x="1172.5" y="595.9" font-size="20.5" text-anchor="end" fill="#231f20">240</text>
<line x1="1184.0" y1="633.0" x2="1190.4" y2="633.0" stroke="#3a3a3a" stroke-width="1.2" />
<text x="1172.5" y="640.2" font-size="20.5" text-anchor="end" fill="#231f20">220</text>
<line x1="1184.0" y1="677.5" x2="1190.4" y2="677.5" stroke="#3a3a3a" stroke-width="1.2" />
<text x="1172.5" y="684.7" font-size="20.5" text-anchor="end" fill="#231f20">200</text>
<line x1="1184.0" y1="721.7" x2="1190.4" y2="721.7" stroke="#3a3a3a" stroke-width="1.2" />
<text x="1172.5" y="728.9" font-size="20.5" text-anchor="end" fill="#231f20">180</text>
<line x1="1184.0" y1="765.9" x2="1190.4" y2="765.9" stroke="#3a3a3a" stroke-width="1.2" />
<text x="1172.5" y="773.1" font-size="20.5" text-anchor="end" fill="#231f20">160</text>
<path d="M1200,574.3 C1207,592 1215,608 1224.5,626.3 C1233,643 1243,662 1253.4,678.3 C1262,691 1271,703 1282.3,713 C1291,721 1300,728.5 1311.2,734.7 C1318,738.5 1324,742 1331.4,744.2 C1337,745.7 1343,746.3 1348.8,747.2 C1355,748.5 1362,749.5 1369,750 C1379,750.9 1388,751.5 1397.9,751.7 C1408,751.9 1417,751.9 1426.8,751.7 C1434,751.6 1441,751.4 1448.5,751.2" fill="none" stroke="#231f20" stroke-width="2.6" stroke-linecap="round"/>
<text x="1116.0" y="655.2" font-size="20.5" text-anchor="middle" fill="#231f20" transform="rotate(-90 1116.0 655.2)">Normalized expression</text>
<text x="1197.0" y="799.7" font-size="20.7" fill="#231f20">hu-dHSCs</text>
<line x1="1312.7" y1="794.0" x2="1354.9" y2="794.0" stroke="#231f20" stroke-width="2"/>
<polygon points="1364.7,794.0 1350.7,801.0 1354.9,794.0 1350.7,787.0" fill="#231f20"/>
<text x="1371.9" y="799.7" font-size="20.7" fill="#231f20">hu-aHSCs</text>
<text transform="translate(1508.0 477.0) scale(0.9 1)" font-size="30.5" font-weight="bold" fill="#231f20" stroke="#231f20" stroke-width="0.5">j</text>
<text x="1951.6" y="490.0" font-size="21.0" text-anchor="middle" fill="#231f20">GSEA of KEGG pathway</text>
<line x1="1834.0" y1="522.6" x2="1834.0" y2="743.1" stroke="#9fa1a4" stroke-width="0.7" />
<line x1="1858.6" y1="522.6" x2="1858.6" y2="743.1" stroke="#9fa1a4" stroke-width="0.7" />
<line x1="1883.1" y1="522.6" x2="1883.1" y2="743.1" stroke="#9fa1a4" stroke-width="0.7" />
<line x1="1907.7" y1="522.6" x2="1907.7" y2="743.1" stroke="#9fa1a4" stroke-width="0.7" />
<line x1="1932.2" y1="522.6" x2="1932.2" y2="743.1" stroke="#9fa1a4" stroke-width="0.7" />
<line x1="1956.8" y1="522.6" x2="1956.8" y2="743.1" stroke="#9fa1a4" stroke-width="0.7" />
<line x1="1981.3" y1="522.6" x2="1981.3" y2="743.1" stroke="#9fa1a4" stroke-width="0.7" />
<line x1="2005.9" y1="522.6" x2="2005.9" y2="743.1" stroke="#9fa1a4" stroke-width="0.7" />
<line x1="2030.5" y1="522.6" x2="2030.5" y2="743.1" stroke="#9fa1a4" stroke-width="0.7" />
<line x1="2055.0" y1="522.6" x2="2055.0" y2="743.1" stroke="#9fa1a4" stroke-width="0.7" />
<line x1="2079.6" y1="522.6" x2="2079.6" y2="743.1" stroke="#9fa1a4" stroke-width="0.7" />
<line x1="1814.5" y1="543.6" x2="2089.7" y2="543.6" stroke="#9fa1a4" stroke-width="0.7" />
<line x1="1809.5" y1="543.6" x2="1814.5" y2="543.6" stroke="#3a3a3a" stroke-width="1.1" />
<line x1="1814.5" y1="579.4" x2="2089.7" y2="579.4" stroke="#9fa1a4" stroke-width="0.7" />
<line x1="1809.5" y1="579.4" x2="1814.5" y2="579.4" stroke="#3a3a3a" stroke-width="1.1" />
<line x1="1814.5" y1="614.8" x2="2089.7" y2="614.8" stroke="#9fa1a4" stroke-width="0.7" />
<line x1="1809.5" y1="614.8" x2="1814.5" y2="614.8" stroke="#3a3a3a" stroke-width="1.1" />
<line x1="1814.5" y1="650.1" x2="2089.7" y2="650.1" stroke="#9fa1a4" stroke-width="0.7" />
<line x1="1809.5" y1="650.1" x2="1814.5" y2="650.1" stroke="#3a3a3a" stroke-width="1.1" />
<line x1="1814.5" y1="685.5" x2="2089.7" y2="685.5" stroke="#9fa1a4" stroke-width="0.7" />
<line x1="1809.5" y1="685.5" x2="1814.5" y2="685.5" stroke="#3a3a3a" stroke-width="1.1" />
<line x1="1814.5" y1="720.9" x2="2089.7" y2="720.9" stroke="#9fa1a4" stroke-width="0.7" />
<line x1="1809.5" y1="720.9" x2="1814.5" y2="720.9" stroke="#3a3a3a" stroke-width="1.1" />
<rect x="1814.5" y="522.6" width="275.2" height="220.5" fill="none" stroke="#3a3a3a" stroke-width="1.2" />
<line x1="1858.6" y1="743.1" x2="1858.6" y2="747.6" stroke="#3a3a3a" stroke-width="1.1" />
<text x="1861.6" y="774.5" font-size="20.5" text-anchor="middle" fill="#231f20">–2</text>
<line x1="1907.7" y1="743.1" x2="1907.7" y2="747.6" stroke="#3a3a3a" stroke-width="1.1" />
<text x="1910.7" y="774.5" font-size="20.5" text-anchor="middle" fill="#231f20">–1</text>
<line x1="1956.8" y1="743.1" x2="1956.8" y2="747.6" stroke="#3a3a3a" stroke-width="1.1" />
<text x="1957.3" y="774.5" font-size="20.5" text-anchor="middle" fill="#231f20">0</text>
<line x1="2005.9" y1="743.1" x2="2005.9" y2="747.6" stroke="#3a3a3a" stroke-width="1.1" />
<text x="2006.4" y="774.5" font-size="20.5" text-anchor="middle" fill="#231f20">1</text>
<line x1="2055.0" y1="743.1" x2="2055.0" y2="747.6" stroke="#3a3a3a" stroke-width="1.1" />
<text x="2055.5" y="774.5" font-size="20.5" text-anchor="middle" fill="#231f20">2</text>
<polygon points="2077.2,530.4 2090.4,543.6 2077.2,556.8 2064.0,543.6" fill="#1b8ecf" stroke="#22303c" stroke-width="0.9"/>
<polygon points="2076.5,566.2 2089.7,579.4 2076.5,592.6 2063.3,579.4" fill="#1b8ecf" stroke="#22303c" stroke-width="0.9"/>
<polygon points="2069.7,601.6 2082.9,614.8 2069.7,628.0 2056.5,614.8" fill="#1b8ecf" stroke="#22303c" stroke-width="0.9"/>
<polygon points="2056.1,636.9 2069.3,650.1 2056.1,663.3 2042.9,650.1" fill="#1b8ecf" stroke="#22303c" stroke-width="0.9"/>
<polygon points="2055.0,672.3 2068.2,685.5 2055.0,698.7 2041.8,685.5" fill="#1b8ecf" stroke="#22303c" stroke-width="0.9"/>
<polygon points="1825.2,707.7 1838.4,720.9 1825.2,734.1 1812.0,720.9" fill="#d9dadb" stroke="#3a3a3a" stroke-width="1"/>
<text x="1793.8" y="535.8" font-size="20.7" text-anchor="end" fill="#231f20">Cytokine–cytokine</text>
<text x="1793.8" y="560.8" font-size="20.7" text-anchor="end" fill="#231f20">receptor interaction</text>
<text x="1793.8" y="586.9" font-size="20.7" text-anchor="end" fill="#231f20">Chemokine signalling</text>
<text x="1793.8" y="620.5" font-size="20.7" text-anchor="end" fill="#231f20">Toll-like receptor signalling</text>
<text x="1793.8" y="657.3" font-size="20.7" text-anchor="end" fill="#231f20">Lysosome</text>
<text x="1793.8" y="692.3" font-size="20.7" text-anchor="end" fill="#231f20">PPAR signalling</text>
<text x="1793.8" y="728.8" font-size="20.7" text-anchor="end" fill="#231f20">Ribosome</text>
<text x="1951.5" y="810.1" font-size="20.5" text-anchor="middle" fill="#231f20">NES</text>
<text x="1758.9" y="841.6" font-size="20.7" fill="#231f20">Enrichment</text>
<polygon points="1897.5,826.0 1906.1,834.6 1897.5,843.2 1888.9,834.6" fill="#d9dadb" stroke="#3a3a3a" stroke-width="1"/>
<text x="1933.4" y="841.6" font-size="20.7" fill="#231f20">Down in GPR OE</text>
<polygon points="1896.6,852.0 1904.9,860.3 1896.6,868.6 1888.3,860.3" fill="#1b8ecf" stroke="#1f3a5a" stroke-width="1"/>
<text x="1929.9" y="867.0" font-size="20.7" fill="#231f20">Up in GPR OE</text>
<text x="1804.4" y="905.5" font-size="20.7" fill="#231f20">Adjusted <tspan font-style="italic">P</tspan></text>
<polygon points="1932.0,885.6 1947.0,900.6 1932.0,915.6 1917.0,900.6" fill="#231f20" stroke="#231f20" stroke-width="0"/>
<text x="1961.3" y="907.2" font-size="20.7" fill="#231f20">0.005</text>
<polygon points="2031.7,887.2 2043.5,899.0 2031.7,910.8 2019.9,899.0" fill="#231f20" stroke="#231f20" stroke-width="0"/>
<text x="2057.6" y="907.2" font-size="20.7" fill="#231f20">0.010</text>
<text transform="translate(-1.0 943.5) scale(0.9 1)" font-size="30.5" font-weight="bold" fill="#231f20" stroke="#231f20" stroke-width="0.5">k</text>
<text x="144.3" y="949.9" font-size="21.1" text-anchor="middle" fill="#231f20">Translation</text>
<path d="M106.7,1216.5 L106.7,1085.5 L145.5,1085.5 L145.5,1216.5" fill="#ffffff" stroke="#231f20" stroke-width="2.2" stroke-linejoin="miter"/>
<path d="M164.7,1216.5 L164.7,1146.5 L203.5,1146.5 L203.5,1216.5" fill="#85b8dd" stroke="#231f20" stroke-width="2.2" stroke-linejoin="miter"/>
<line x1="87.7" y1="1012.7" x2="87.7" y2="1216.5" stroke="#4a4a4a" stroke-width="1.4" />
<line x1="74.8" y1="1216.5" x2="223.4" y2="1216.5" stroke="#4a4a4a" stroke-width="1.4" />
<line x1="74.7" y1="1012.7" x2="87.7" y2="1012.7" stroke="#4a4a4a" stroke-width="1.4" />
<text x="62.2" y="1021.1" font-size="20.5" text-anchor="end" fill="#231f20">6</text>
<line x1="74.7" y1="1081.1" x2="87.7" y2="1081.1" stroke="#4a4a4a" stroke-width="1.4" />
<text x="62.2" y="1089.5" font-size="20.5" text-anchor="end" fill="#231f20">4</text>
<line x1="74.7" y1="1149.0" x2="87.7" y2="1149.0" stroke="#4a4a4a" stroke-width="1.4" />
<text x="62.2" y="1157.4" font-size="20.5" text-anchor="end" fill="#231f20">2</text>
<text x="62.2" y="1224.9" font-size="20.5" text-anchor="end" fill="#231f20">0</text>
<line x1="126.2" y1="1216.5" x2="126.2" y2="1229.5" stroke="#6d6e71" stroke-width="1.6" />
<line x1="184.0" y1="1216.5" x2="184.0" y2="1229.5" stroke="#6d6e71" stroke-width="1.6" />
<circle cx="121.5" cy="1056.8" r="6.7" fill="#d1d3d4" stroke="#231f20" stroke-width="2.2" />
<circle cx="131.9" cy="1069.8" r="6.7" fill="#d1d3d4" stroke="#231f20" stroke-width="2.2" />
<circle cx="115.2" cy="1090.9" r="6.7" fill="#d1d3d4" stroke="#231f20" stroke-width="2.2" />
<circle cx="125.6" cy="1102.6" r="6.7" fill="#d1d3d4" stroke="#231f20" stroke-width="2.2" />
<circle cx="136.6" cy="1106.7" r="6.7" fill="#d1d3d4" stroke="#231f20" stroke-width="2.2" />
<circle cx="173.6" cy="1138.2" r="6.7" fill="#1b8ecf" stroke="#231f20" stroke-width="2.2" />
<circle cx="179.9" cy="1142.3" r="6.7" fill="#1b8ecf" stroke="#231f20" stroke-width="2.2" />
<circle cx="184.6" cy="1147.1" r="6.7" fill="#1b8ecf" stroke="#231f20" stroke-width="2.2" />
<circle cx="190.0" cy="1151.5" r="6.7" fill="#1b8ecf" stroke="#231f20" stroke-width="2.2" />
<circle cx="195.0" cy="1155.6" r="6.7" fill="#1b8ecf" stroke="#231f20" stroke-width="2.2" />
<line x1="126.2" y1="1085.5" x2="126.2" y2="1064.1" stroke="#231f20" stroke-width="2" />
<line x1="116.2" y1="1064.1" x2="136.2" y2="1064.1" stroke="#231f20" stroke-width="2" />
<line x1="184.6" y1="1146.5" x2="184.6" y2="1139.2" stroke="#231f20" stroke-width="2" />
<line x1="175.1" y1="1139.2" x2="194.1" y2="1139.2" stroke="#231f20" stroke-width="2" />
<text x="107.3" y="1028.7" font-size="20.5" fill="#231f20"><tspan font-style="italic">P</tspan> = 0.0003</text>
<line x1="123.1" y1="1039.5" x2="190.9" y2="1039.5" stroke="#231f20" stroke-width="1.6" />
<text x="27.5" y="1116.8" font-size="20.5" text-anchor="middle" fill="#231f20" transform="rotate(-90 27.5 1116.8)">OP-Puro MFI (×10<tspan font-size="12.2" dy="-13">3</tspan><tspan dy="13" font-size="1">&#8203;</tspan>)</text>
<text x="138.0" y="1255.8" font-size="20.5" text-anchor="end" fill="#231f20" transform="rotate(-45 138.0 1255.8)">Control</text>
<text x="193.0" y="1254.5" font-size="20.8" text-anchor="end" fill="#1c9ad6" transform="rotate(-45 193.0 1254.5)">GPR OE</text>
<text transform="translate(265.5 943.5) scale(0.9 1)" font-size="30.5" font-weight="bold" fill="#231f20" stroke="#231f20" stroke-width="0.5">l</text>
<text x="436.0" y="949.9" font-size="20.7" text-anchor="middle" fill="#231f20">Active</text>
<text x="436.0" y="974.2" font-size="20.7" text-anchor="middle" fill="#231f20">mitochondria</text>
<path d="M394.4,1221.2 L394.4,1108.9 L432.3,1108.9 L432.3,1221.2" fill="#ffffff" stroke="#231f20" stroke-width="2.2" stroke-linejoin="miter"/>
<path d="M452.8,1221.2 L452.8,1162.9 L490.7,1162.9 L490.7,1221.2" fill="#85b8dd" stroke="#231f20" stroke-width="2.2" stroke-linejoin="miter"/>
<line x1="375.5" y1="1017.4" x2="375.5" y2="1221.2" stroke="#4a4a4a" stroke-width="1.4" />
<line x1="362.0" y1="1221.2" x2="510.3" y2="1221.2" stroke="#4a4a4a" stroke-width="1.4" />
<line x1="362.0" y1="1017.4" x2="375.5" y2="1017.4" stroke="#4a4a4a" stroke-width="1.4" />
<text x="349.5" y="1024.2" font-size="20.5" text-anchor="end" fill="#231f20">10</text>
<line x1="362.0" y1="1119.0" x2="375.5" y2="1119.0" stroke="#4a4a4a" stroke-width="1.4" />
<text x="349.5" y="1125.8" font-size="20.5" text-anchor="end" fill="#231f20">5</text>
<text x="349.5" y="1228.0" font-size="20.5" text-anchor="end" fill="#231f20">0</text>
<line x1="413.4" y1="1221.2" x2="413.4" y2="1234.2" stroke="#6d6e71" stroke-width="1.6" />
<line x1="471.1" y1="1221.2" x2="471.1" y2="1234.2" stroke="#6d6e71" stroke-width="1.6" />
<circle cx="413.4" cy="1026.2" r="6.7" fill="#d1d3d4" stroke="#231f20" stroke-width="2.2" />
<circle cx="413.4" cy="1095.6" r="6.7" fill="#d1d3d4" stroke="#231f20" stroke-width="2.2" />
<circle cx="401.4" cy="1114.6" r="6.7" fill="#d1d3d4" stroke="#231f20" stroke-width="2.2" />
<circle cx="413.4" cy="1115.2" r="6.7" fill="#d1d3d4" stroke="#231f20" stroke-width="2.2" />
<circle cx="425.4" cy="1120.9" r="6.7" fill="#d1d3d4" stroke="#231f20" stroke-width="2.2" />
<circle cx="413.4" cy="1136.0" r="6.7" fill="#d1d3d4" stroke="#231f20" stroke-width="2.2" />
<circle cx="413.4" cy="1152.4" r="6.7" fill="#d1d3d4" stroke="#231f20" stroke-width="2.2" />
<circle cx="484.4" cy="1131.9" r="6.7" fill="#1b8ecf" stroke="#231f20" stroke-width="2.2" />
<circle cx="459.1" cy="1139.8" r="6.7" fill="#1b8ecf" stroke="#231f20" stroke-width="2.2" />
<circle cx="482.8" cy="1149.3" r="6.7" fill="#1b8ecf" stroke="#231f20" stroke-width="2.2" />
<circle cx="471.8" cy="1161.0" r="6.7" fill="#1b8ecf" stroke="#231f20" stroke-width="2.2" />
<circle cx="459.1" cy="1187.8" r="6.7" fill="#1b8ecf" stroke="#231f20" stroke-width="2.2" />
<circle cx="471.8" cy="1185.0" r="6.7" fill="#1b8ecf" stroke="#231f20" stroke-width="2.2" />
<circle cx="483.4" cy="1185.0" r="6.7" fill="#1b8ecf" stroke="#231f20" stroke-width="2.2" />
<line x1="413.4" y1="1108.9" x2="413.4" y2="1068.2" stroke="#231f20" stroke-width="2" />
<line x1="403.4" y1="1068.2" x2="423.4" y2="1068.2" stroke="#231f20" stroke-width="2" />
<line x1="471.8" y1="1162.9" x2="471.8" y2="1139.2" stroke="#231f20" stroke-width="2" />
<line x1="462.3" y1="1139.2" x2="481.3" y2="1139.2" stroke="#231f20" stroke-width="2" />
<text x="400.8" y="1002.6" font-size="20.5" fill="#231f20"><tspan font-style="italic">P</tspan> = 0.0101</text>
<line x1="416.5" y1="1011.4" x2="483.4" y2="1011.4" stroke="#231f20" stroke-width="1.6" />
<text x="286.3" y="1120.0" font-size="19.6" text-anchor="middle" fill="#231f20" transform="rotate(-90 286.3 1120.0)">MitoTracker red</text>
<text x="311.5" y="1120.0" font-size="20.5" text-anchor="middle" fill="#231f20" transform="rotate(-90 311.5 1120.0)">MFI (×10<tspan font-size="12.2" dy="-13">3</tspan><tspan dy="13" font-size="1">&#8203;</tspan>)</text>
<text x="425.7" y="1260.3" font-size="20.5" text-anchor="end" fill="#231f20" transform="rotate(-45 425.7 1260.3)">Control</text>
<text x="480.7" y="1259.0" font-size="20.8" text-anchor="end" fill="#1c9ad6" transform="rotate(-45 480.7 1259.0)">GPR OE</text>
<text transform="translate(549.5 943.7) scale(0.9 1)" font-size="30.5" font-weight="bold" fill="#231f20" stroke="#231f20" stroke-width="0.5">m</text>
<text x="711.6" y="950.2" font-size="21.1" text-anchor="middle" fill="#231f20">Primary transplantation</text>
<path d="M699.4,1218.2 L699.4,1168.0 L738.7,1168.0 L738.7,1218.2" fill="#ffffff" stroke="#231f20" stroke-width="2.2" stroke-linejoin="miter"/>
<path d="M757.8,1218.2 L757.8,1084.4 L796.7,1084.4 L796.7,1218.2" fill="#85b8dd" stroke="#231f20" stroke-width="2.2" stroke-linejoin="miter"/>
<line x1="680.7" y1="1014.7" x2="680.7" y2="1218.2" stroke="#4a4a4a" stroke-width="1.4" />
<line x1="667.0" y1="1218.2" x2="815.9" y2="1218.2" stroke="#4a4a4a" stroke-width="1.4" />
<line x1="667.0" y1="1014.7" x2="680.7" y2="1014.7" stroke="#4a4a4a" stroke-width="1.4" />
<text x="654.5" y="1021.5" font-size="20.5" text-anchor="end" fill="#231f20">4</text>
<line x1="667.0" y1="1065.6" x2="680.7" y2="1065.6" stroke="#4a4a4a" stroke-width="1.4" />
<text x="654.5" y="1072.4" font-size="20.5" text-anchor="end" fill="#231f20">3</text>
<line x1="667.0" y1="1116.5" x2="680.7" y2="1116.5" stroke="#4a4a4a" stroke-width="1.4" />
<text x="654.5" y="1123.3" font-size="20.5" text-anchor="end" fill="#231f20">2</text>
<line x1="667.0" y1="1167.3" x2="680.7" y2="1167.3" stroke="#4a4a4a" stroke-width="1.4" />
<text x="654.5" y="1174.1" font-size="20.5" text-anchor="end" fill="#231f20">1</text>
<text x="654.5" y="1225.0" font-size="20.5" text-anchor="end" fill="#231f20">0</text>
<line x1="719.2" y1="1218.2" x2="719.2" y2="1231.2" stroke="#6d6e71" stroke-width="1.6" />
<line x1="777.3" y1="1218.2" x2="777.3" y2="1231.2" stroke="#6d6e71" stroke-width="1.6" />
<circle cx="708.3" cy="1142.4" r="6.7" fill="#d1d3d4" stroke="#231f20" stroke-width="2.2" />
<polygon points="717.5,1153.7 710.8,1166.4 724.2,1166.4" fill="#d1d3d4" stroke="#231f20" stroke-width="2.1" stroke-linejoin="miter"/>
<polygon points="728.8,1157.1 722.1,1169.8 735.5,1169.8" fill="#d1d3d4" stroke="#231f20" stroke-width="2.1" stroke-linejoin="miter"/>
<circle cx="713.4" cy="1180.0" r="6.7" fill="#d1d3d4" stroke="#231f20" stroke-width="2.2" />
<polygon points="722.7,1182.7 716.0,1195.4 729.4,1195.4" fill="#d1d3d4" stroke="#231f20" stroke-width="2.1" stroke-linejoin="miter"/>
<circle cx="777.3" cy="1027.0" r="6.7" fill="#1b8ecf" stroke="#231f20" stroke-width="2.2" />
<circle cx="771.5" cy="1084.4" r="6.7" fill="#1b8ecf" stroke="#231f20" stroke-width="2.2" />
<circle cx="782.4" cy="1087.1" r="6.7" fill="#1b8ecf" stroke="#231f20" stroke-width="2.2" />
<polygon points="769.4,1081.3 762.7,1094.0 776.1,1094.0" fill="#1b8ecf" stroke="#231f20" stroke-width="2.1" stroke-linejoin="miter"/>
<polygon points="776.3,1097.3 769.6,1110.0 783.0,1110.0" fill="#1b8ecf" stroke="#231f20" stroke-width="2.1" stroke-linejoin="miter"/>
<circle cx="787.9" cy="1107.2" r="6.7" fill="#1b8ecf" stroke="#231f20" stroke-width="2.2" />
<line x1="719.2" y1="1168.0" x2="719.2" y2="1147.9" stroke="#231f20" stroke-width="2" />
<line x1="709.2" y1="1147.9" x2="729.2" y2="1147.9" stroke="#231f20" stroke-width="2" />
<line x1="777.3" y1="1084.4" x2="777.3" y2="1053.6" stroke="#231f20" stroke-width="2" />
<line x1="767.3" y1="1053.6" x2="787.3" y2="1053.6" stroke="#231f20" stroke-width="2" />
<text x="694.3" y="1001.4" font-size="20.5" fill="#231f20"><tspan font-style="italic">P</tspan> = 0.0002</text>
<line x1="711.7" y1="1009.9" x2="779.0" y2="1009.9" stroke="#231f20" stroke-width="1.6" />
<text x="599.0" y="1117.8" font-size="20.5" text-anchor="middle" fill="#231f20" transform="rotate(-90 599.0 1117.8)">Total GFP+/input GFP</text>
<text x="625.5" y="1120.2" font-size="20.5" text-anchor="middle" fill="#231f20" transform="rotate(-90 625.5 1120.2)">normalized to control</text>
<text x="732.5" y="1256.3" font-size="20.5" text-anchor="end" fill="#231f20" transform="rotate(-45 732.5 1256.3)">Control</text>
<text x="787.5" y="1256.0" font-size="20.8" text-anchor="end" fill="#1c9ad6" transform="rotate(-45 787.5 1256.0)">GPR OE</text>
<text transform="translate(858.0 943.7) scale(0.9 1)" font-size="30.5" font-weight="bold" fill="#231f20" stroke="#231f20" stroke-width="0.5">n</text>
<text x="1015.8" y="950.2" font-size="21.1" text-anchor="middle" fill="#231f20">Lineage distribution</text>
<path d="M974.3,1220.9 L974.3,1168.7 L1013.5,1168.7 L1013.5,1220.9" fill="#4f0a40" stroke="#231f20" stroke-width="2.2" stroke-linejoin="miter"/>
<rect x="974.3" y="1097.3" width="39.2" height="71.4" fill="#c41e3a" stroke="#231f20" stroke-width="2.2" />
<rect x="974.3" y="1091.9" width="39.2" height="5.4" fill="#f4b72f" stroke="#231f20" stroke-width="2.2" />
<path d="M1023.1,1220.9 L1023.1,1115.4 L1062.7,1115.4 L1062.7,1220.9" fill="#4f0a40" stroke="#231f20" stroke-width="2.2" stroke-linejoin="miter"/>
<rect x="1023.1" y="1107.6" width="39.6" height="7.8" fill="#c41e3a" stroke="#231f20" stroke-width="2.2" />
<rect x="1023.1" y="1091.9" width="39.6" height="15.7" fill="#f4b72f" stroke="#231f20" stroke-width="2.2" />
<line x1="993.4" y1="1050.9" x2="993.4" y2="1097.0" stroke="#231f20" stroke-width="2" />
<line x1="983.0" y1="1050.9" x2="1004.3" y2="1050.9" stroke="#231f20" stroke-width="2" />
<line x1="983.0" y1="1088.8" x2="1004.3" y2="1088.8" stroke="#231f20" stroke-width="2" />
<line x1="993.4" y1="1122.6" x2="993.4" y2="1168.7" stroke="#231f20" stroke-width="2" />
<line x1="983.0" y1="1122.6" x2="1004.3" y2="1122.6" stroke="#231f20" stroke-width="2" />
<line x1="1042.9" y1="1081.0" x2="1042.9" y2="1115.4" stroke="#231f20" stroke-width="2" />
<line x1="1032.7" y1="1081.0" x2="1053.1" y2="1081.0" stroke="#231f20" stroke-width="2" />
<line x1="1032.7" y1="1095.3" x2="1053.1" y2="1095.3" stroke="#231f20" stroke-width="2" />
<line x1="954.8" y1="1026.3" x2="954.8" y2="1220.9" stroke="#4a4a4a" stroke-width="1.4" />
<line x1="941.2" y1="1220.9" x2="1082.8" y2="1220.9" stroke="#4a4a4a" stroke-width="1.4" />
<line x1="941.2" y1="1026.3" x2="954.8" y2="1026.3" stroke="#4a4a4a" stroke-width="1.4" />
<text x="928.7" y="1033.1" font-size="20.5" text-anchor="end" fill="#231f20">150</text>
<line x1="941.2" y1="1091.2" x2="954.8" y2="1091.2" stroke="#4a4a4a" stroke-width="1.4" />
<text x="928.7" y="1098.0" font-size="20.5" text-anchor="end" fill="#231f20">100</text>
<line x1="941.2" y1="1156.1" x2="954.8" y2="1156.1" stroke="#4a4a4a" stroke-width="1.4" />
<text x="928.7" y="1162.9" font-size="20.5" text-anchor="end" fill="#231f20">50</text>
<text x="928.7" y="1227.7" font-size="20.5" text-anchor="end" fill="#231f20">0</text>
<line x1="993.4" y1="1220.9" x2="993.4" y2="1233.9" stroke="#6d6e71" stroke-width="1.6" />
<line x1="1042.9" y1="1220.9" x2="1042.9" y2="1233.9" stroke="#6d6e71" stroke-width="1.6" />
<rect x="1028.9" y="988.1" width="31.4" height="20.5" fill="#f4b72f" stroke="#231f20" stroke-width="1.8" />
<text x="1044.6" y="1008.8" font-size="20" text-anchor="middle" fill="#231f20">*</text>
<text x="1071.9" y="1004.1" font-size="20.5" fill="#231f20">CD34 (<tspan font-style="italic">P</tspan> = 0.0417)</text>
<rect x="1028.9" y="1012.7" width="31.4" height="19.8" fill="#c41e3a" stroke="#231f20" stroke-width="1.8" />
<text x="1044.6" y="1030.3" font-size="21.5" text-anchor="middle" fill="#ffffff">NS</text>
<text x="1071.9" y="1028.0" font-size="20.5" fill="#231f20">CD19</text>
<rect x="1028.9" y="1036.6" width="31.4" height="20.4" fill="#4f0a40" stroke="#231f20" stroke-width="1.8" />
<text x="1044.6" y="1054.8" font-size="21.5" text-anchor="middle" fill="#ffffff">NS</text>
<text x="1071.9" y="1053.0" font-size="20.5" fill="#231f20">CD33</text>
<text x="874.5" y="1122.8" font-size="20.1" text-anchor="middle" fill="#231f20" transform="rotate(-90 874.5 1122.8)">Lineage distribution (%)</text>
<text x="1002.4" y="1259.8" font-size="20.5" text-anchor="end" fill="#231f20" transform="rotate(-45 1002.4 1259.8)">Control</text>
<text x="1054.4" y="1260.0" font-size="20.8" text-anchor="end" fill="#1c9ad6" transform="rotate(-45 1054.4 1260.0)">GPR OE</text>
<text transform="translate(1287.0 943.6) scale(0.9 1)" font-size="30.5" font-weight="bold" fill="#231f20" stroke="#231f20" stroke-width="0.5">o</text>
<text x="1463.0" y="949.9" font-size="21.1" text-anchor="middle" fill="#231f20">Secondary transplantation</text>
<rect x="1406.8" y="1080.9" width="36.9" height="65.3" fill="#ffffff" stroke="#231f20" stroke-width="2.2" />
<rect x="1464.5" y="1072.0" width="37.9" height="8.9" fill="#85b8dd" stroke="#231f20" stroke-width="2.2" />
<line x1="1386.9" y1="1012.7" x2="1386.9" y2="1215.7" stroke="#4a4a4a" stroke-width="1.4" />
<line x1="1373.0" y1="1215.7" x2="1522.0" y2="1215.7" stroke="#4a4a4a" stroke-width="1.4" />
<line x1="1373.0" y1="1012.7" x2="1386.9" y2="1012.7" stroke="#4a4a4a" stroke-width="1.4" />
<text x="1360.0" y="1019.5" font-size="20.5" text-anchor="end" fill="#231f20">10</text>
<line x1="1373.0" y1="1080.9" x2="1386.9" y2="1080.9" stroke="#4a4a4a" stroke-width="1.4" />
<text x="1360.0" y="1087.7" font-size="20.5" text-anchor="end" fill="#231f20">1</text>
<line x1="1373.0" y1="1148.7" x2="1386.9" y2="1148.7" stroke="#4a4a4a" stroke-width="1.4" />
<text x="1360.0" y="1155.5" font-size="20.5" text-anchor="end" fill="#231f20">0.1</text>
<text x="1360.0" y="1222.5" font-size="20.5" text-anchor="end" fill="#231f20">0.01</text>
<line x1="1424.8" y1="1215.7" x2="1424.8" y2="1229.2" stroke="#6d6e71" stroke-width="1.6" />
<line x1="1483.5" y1="1215.7" x2="1483.5" y2="1229.2" stroke="#6d6e71" stroke-width="1.6" />
<line x1="1386.9" y1="1080.9" x2="1522.0" y2="1080.9" stroke="#231f20" stroke-width="2" />
<line x1="1386.5" y1="1148.7" x2="1517.0" y2="1148.7" stroke="#231f20" stroke-width="4.4" stroke-dasharray="0.01,9.33" stroke-linecap="round"/>
<polygon points="1424.1,1105.5 1417.8,1117.5 1430.4,1117.5" fill="#d1d3d4" stroke="#231f20" stroke-width="2.1" stroke-linejoin="miter"/>
<circle cx="1412.5" cy="1179.0" r="6.7" fill="#d1d3d4" stroke="#231f20" stroke-width="2.2" />
<circle cx="1437.7" cy="1184.1" r="6.7" fill="#d1d3d4" stroke="#231f20" stroke-width="2.2" />
<circle cx="1424.8" cy="1198.9" r="6.7" fill="#d1d3d4" stroke="#231f20" stroke-width="2.2" />
<polygon points="1484.1,1028.5 1477.8,1040.5 1490.4,1040.5" fill="#1b8ecf" stroke="#231f20" stroke-width="2.1" stroke-linejoin="miter"/>
<circle cx="1470.9" cy="1099.5" r="6.7" fill="#1b8ecf" stroke="#231f20" stroke-width="2.2" />
<circle cx="1496.1" cy="1110.9" r="6.7" fill="#1b8ecf" stroke="#231f20" stroke-width="2.2" />
<circle cx="1483.5" cy="1146.2" r="6.7" fill="#1b8ecf" stroke="#231f20" stroke-width="2.2" />
<line x1="1424.8" y1="1146.2" x2="1424.8" y2="1131.1" stroke="#231f20" stroke-width="2" />
<line x1="1414.8" y1="1131.1" x2="1434.8" y2="1131.1" stroke="#231f20" stroke-width="2" />
<line x1="1483.5" y1="1072.0" x2="1483.5" y2="1054.4" stroke="#231f20" stroke-width="2" />
<line x1="1473.5" y1="1054.4" x2="1493.5" y2="1054.4" stroke="#231f20" stroke-width="2" />
<text x="1579.7" y="1020.0" font-size="20" text-anchor="middle" fill="#231f20">Biological</text>
<text x="1579.4" y="1044.6" font-size="20" text-anchor="middle" fill="#231f20">replicate</text>
<circle cx="1562.4" cy="1077.4" r="6.7" fill="#ffffff" stroke="#231f20" stroke-width="2.2" />
<text x="1582.0" y="1083.8" font-size="20.5" fill="#231f20">A</text>
<polygon points="1562.4,1089.7 1555.9,1102.1 1568.9,1102.1" fill="#ffffff" stroke="#231f20" stroke-width="2.1" stroke-linejoin="miter"/>
<text x="1582.0" y="1102.6" font-size="20.5" fill="#231f20">B</text>
<text x="1303.5" y="1115.3" font-size="20.5" text-anchor="middle" fill="#231f20" transform="rotate(-90 1303.5 1115.3)">hCD45 (%)</text>
<text x="1433.8" y="1259.8" font-size="20.5" text-anchor="end" fill="#231f20" transform="rotate(-45 1433.8 1259.8)">Control</text>
<text x="1492.5" y="1258.5" font-size="20.8" text-anchor="end" fill="#1c9ad6" transform="rotate(-45 1492.5 1258.5)">GPR OE</text>
</svg>
</body></html>
